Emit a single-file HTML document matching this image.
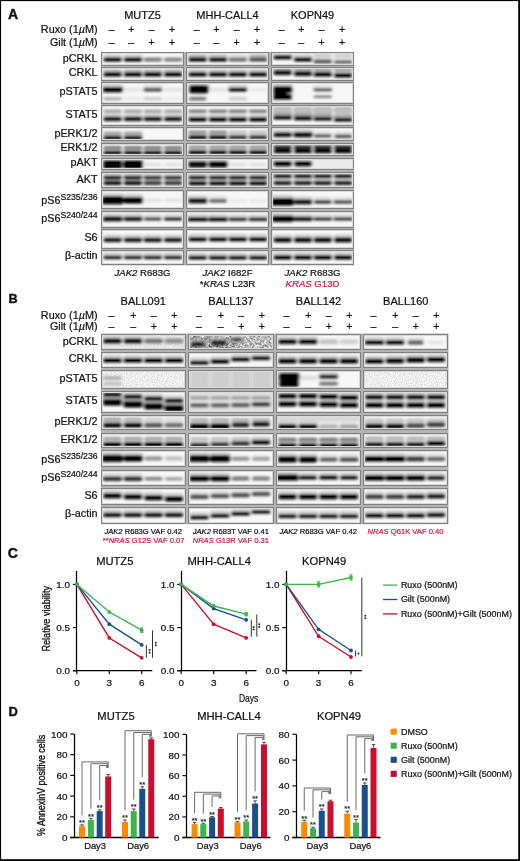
<!DOCTYPE html><html><head><meta charset="utf-8"><style>html,body{margin:0;padding:0;background:#fff;}svg text{font-family:"Liberation Sans", sans-serif;}</style></head><body><svg width="520" height="861" viewBox="0 0 520 861" style="display:block;will-change:transform">
<defs>
<filter id="bl" x="-20%" y="-50%" width="140%" height="200%"><feGaussianBlur stdDeviation="1.5 1.0"/></filter>
<filter id="nz1" x="0" y="0" width="100%" height="100%" color-interpolation-filters="sRGB"><feTurbulence type="fractalNoise" baseFrequency="0.9" numOctaves="2" seed="3"/><feColorMatrix type="matrix" values="0.26 0 0 0 0.8  0.26 0 0 0 0.8  0.26 0 0 0 0.8  0 0 0 0 1"/></filter>
<filter id="nz2" x="0" y="0" width="100%" height="100%" color-interpolation-filters="sRGB"><feTurbulence type="fractalNoise" baseFrequency="0.42" numOctaves="2" seed="7"/><feColorMatrix type="matrix" values="1.35 0 0 0 -0.05  1.35 0 0 0 -0.05  1.35 0 0 0 -0.05  0 0 0 0 1"/></filter>
<filter id="nz3" x="0" y="0" width="100%" height="100%" color-interpolation-filters="sRGB"><feTurbulence type="fractalNoise" baseFrequency="0.9" numOctaves="2" seed="11"/><feColorMatrix type="matrix" values="0.22 0 0 0 0.79  0.22 0 0 0 0.79  0.22 0 0 0 0.79  0 0 0 0 1"/></filter>
</defs>
<rect x="0" y="0" width="520" height="861" fill="#ffffff"/>
<g font-family=""Liberation Sans", sans-serif">
<text x="7.9" y="19.1" font-size="14" text-anchor="start" font-weight="bold" font-style="normal" fill="#111" stroke="#111" stroke-width="0.4">A</text>
<text x="142.5" y="19.2" font-size="11" text-anchor="middle" font-weight="normal" font-style="normal" fill="#111"  stroke="#111" stroke-width="0.22">MUTZ5</text>
<text x="227.5" y="19.2" font-size="11" text-anchor="middle" font-weight="normal" font-style="normal" fill="#111"  stroke="#111" stroke-width="0.22">MHH-CALL4</text>
<text x="312.5" y="19.2" font-size="11" text-anchor="middle" font-weight="normal" font-style="normal" fill="#111"  stroke="#111" stroke-width="0.22">KOPN49</text>
<text x="97.5" y="32.6" font-size="10.8" text-anchor="end" font-weight="normal" font-style="normal" fill="#111"  stroke="#111" stroke-width="0.22">Ruxo (1<tspan font-style="italic">µ</tspan>M)</text>
<text x="97.5" y="46" font-size="10.8" text-anchor="end" font-weight="normal" font-style="normal" fill="#111"  stroke="#111" stroke-width="0.22">Gilt (1<tspan font-style="italic">µ</tspan>M)</text>
<text x="111.8" y="32.7" font-size="10.6" text-anchor="middle" font-weight="normal" font-style="normal" fill="#111"  stroke="#111" stroke-width="0.22">–</text>
<text x="111.8" y="46.2" font-size="10.6" text-anchor="middle" font-weight="normal" font-style="normal" fill="#111"  stroke="#111" stroke-width="0.22">–</text>
<text x="131.3" y="32.7" font-size="10.6" text-anchor="middle" font-weight="normal" font-style="normal" fill="#111"  stroke="#111" stroke-width="0.22">+</text>
<text x="131.3" y="46.2" font-size="10.6" text-anchor="middle" font-weight="normal" font-style="normal" fill="#111"  stroke="#111" stroke-width="0.22">–</text>
<text x="151.6" y="32.7" font-size="10.6" text-anchor="middle" font-weight="normal" font-style="normal" fill="#111"  stroke="#111" stroke-width="0.22">–</text>
<text x="151.6" y="46.2" font-size="10.6" text-anchor="middle" font-weight="normal" font-style="normal" fill="#111"  stroke="#111" stroke-width="0.22">+</text>
<text x="172.2" y="32.7" font-size="10.6" text-anchor="middle" font-weight="normal" font-style="normal" fill="#111"  stroke="#111" stroke-width="0.22">+</text>
<text x="172.2" y="46.2" font-size="10.6" text-anchor="middle" font-weight="normal" font-style="normal" fill="#111"  stroke="#111" stroke-width="0.22">+</text>
<text x="196.8" y="32.7" font-size="10.6" text-anchor="middle" font-weight="normal" font-style="normal" fill="#111"  stroke="#111" stroke-width="0.22">–</text>
<text x="196.8" y="46.2" font-size="10.6" text-anchor="middle" font-weight="normal" font-style="normal" fill="#111"  stroke="#111" stroke-width="0.22">–</text>
<text x="216.3" y="32.7" font-size="10.6" text-anchor="middle" font-weight="normal" font-style="normal" fill="#111"  stroke="#111" stroke-width="0.22">+</text>
<text x="216.3" y="46.2" font-size="10.6" text-anchor="middle" font-weight="normal" font-style="normal" fill="#111"  stroke="#111" stroke-width="0.22">–</text>
<text x="236.6" y="32.7" font-size="10.6" text-anchor="middle" font-weight="normal" font-style="normal" fill="#111"  stroke="#111" stroke-width="0.22">–</text>
<text x="236.6" y="46.2" font-size="10.6" text-anchor="middle" font-weight="normal" font-style="normal" fill="#111"  stroke="#111" stroke-width="0.22">+</text>
<text x="257.2" y="32.7" font-size="10.6" text-anchor="middle" font-weight="normal" font-style="normal" fill="#111"  stroke="#111" stroke-width="0.22">+</text>
<text x="257.2" y="46.2" font-size="10.6" text-anchor="middle" font-weight="normal" font-style="normal" fill="#111"  stroke="#111" stroke-width="0.22">+</text>
<text x="281.8" y="32.7" font-size="10.6" text-anchor="middle" font-weight="normal" font-style="normal" fill="#111"  stroke="#111" stroke-width="0.22">–</text>
<text x="281.8" y="46.2" font-size="10.6" text-anchor="middle" font-weight="normal" font-style="normal" fill="#111"  stroke="#111" stroke-width="0.22">–</text>
<text x="301.3" y="32.7" font-size="10.6" text-anchor="middle" font-weight="normal" font-style="normal" fill="#111"  stroke="#111" stroke-width="0.22">+</text>
<text x="301.3" y="46.2" font-size="10.6" text-anchor="middle" font-weight="normal" font-style="normal" fill="#111"  stroke="#111" stroke-width="0.22">–</text>
<text x="321.6" y="32.7" font-size="10.6" text-anchor="middle" font-weight="normal" font-style="normal" fill="#111"  stroke="#111" stroke-width="0.22">–</text>
<text x="321.6" y="46.2" font-size="10.6" text-anchor="middle" font-weight="normal" font-style="normal" fill="#111"  stroke="#111" stroke-width="0.22">+</text>
<text x="342.2" y="32.7" font-size="10.6" text-anchor="middle" font-weight="normal" font-style="normal" fill="#111"  stroke="#111" stroke-width="0.22">+</text>
<text x="342.2" y="46.2" font-size="10.6" text-anchor="middle" font-weight="normal" font-style="normal" fill="#111"  stroke="#111" stroke-width="0.22">+</text>
<text x="97.6" y="61.70" font-size="10.8" text-anchor="end" font-weight="normal" font-style="normal" fill="#111"  stroke="#111" stroke-width="0.22">pCRKL</text>
<text x="97.6" y="75.80" font-size="10.8" text-anchor="end" font-weight="normal" font-style="normal" fill="#111"  stroke="#111" stroke-width="0.22">CRKL</text>
<text x="97.6" y="95.35" font-size="10.8" text-anchor="end" font-weight="normal" font-style="normal" fill="#111"  stroke="#111" stroke-width="0.22">pSTAT5</text>
<text x="97.6" y="117.65" font-size="10.8" text-anchor="end" font-weight="normal" font-style="normal" fill="#111"  stroke="#111" stroke-width="0.22">STAT5</text>
<text x="97.6" y="136.70" font-size="10.8" text-anchor="end" font-weight="normal" font-style="normal" fill="#111"  stroke="#111" stroke-width="0.22">pERK1/2</text>
<text x="97.6" y="151.40" font-size="10.8" text-anchor="end" font-weight="normal" font-style="normal" fill="#111"  stroke="#111" stroke-width="0.22">ERK1/2</text>
<text x="97.6" y="166.30" font-size="10.8" text-anchor="end" font-weight="normal" font-style="normal" fill="#111"  stroke="#111" stroke-width="0.22">pAKT</text>
<text x="97.6" y="182.65" font-size="10.8" text-anchor="end" font-weight="normal" font-style="normal" fill="#111"  stroke="#111" stroke-width="0.22">AKT</text>
<text x="97.6" y="204.25" font-size="10.8" text-anchor="end" fill="#111" stroke="#111" stroke-width="0.22">pS6<tspan font-size="8.7" dy="-3.9">S235/236</tspan></text>
<text x="97.6" y="222.25" font-size="10.8" text-anchor="end" fill="#111" stroke="#111" stroke-width="0.22">pS6<tspan font-size="8.7" dy="-3.9">S240/244</tspan></text>
<text x="97.6" y="240.90" font-size="10.8" text-anchor="end" font-weight="normal" font-style="normal" fill="#111"  stroke="#111" stroke-width="0.22">S6</text>
<text x="97.6" y="259.10" font-size="10.8" text-anchor="end" font-weight="normal" font-style="normal" fill="#111"  stroke="#111" stroke-width="0.22">β-actin</text>
<rect x="101" y="52" width="253" height="213.4" fill="#b4b4b4"/>
<clipPath id="c1010_520"><rect x="101" y="52" width="83" height="14"/></clipPath>
<rect x="101" y="52" width="83" height="14" fill="#f7f7f7"/>
<g clip-path="url(#c1010_520)">
<g filter="url(#bl)" opacity="1.0">
<rect x="102.75" y="54.25" width="19.70" height="8.10" rx="3.04" fill="#cfcfcf"/>
<rect x="123.15" y="54.25" width="19.70" height="8.10" rx="3.04" fill="#cfcfcf"/>
<rect x="164.10" y="57.55" width="18.20" height="4.10" rx="1.54" fill="#8a8a8a"/>
<rect x="143.70" y="57.55" width="18.20" height="4.10" rx="1.54" fill="#828282"/>
<rect x="103.50" y="57.55" width="18.20" height="4.10" rx="1.54" fill="#060606"/>
<rect x="123.90" y="57.55" width="18.20" height="4.10" rx="1.54" fill="#060606"/>
</g></g>
<rect x="101.5" y="52.5" width="82" height="13" fill="none" stroke="#808080" stroke-width="1"/>
<rect x="102.5" y="53.5" width="80" height="11" fill="none" stroke="#dadada" stroke-width="1"/>
<clipPath id="c1010_670"><rect x="101" y="67" width="83" height="14"/></clipPath>
<rect x="101" y="67" width="83" height="14" fill="#f7f7f7"/>
<g clip-path="url(#c1010_670)">
<g filter="url(#bl)" opacity="1.0">
<rect x="102.75" y="69.05" width="19.70" height="8.50" rx="3.19" fill="#cfcfcf"/>
<rect x="123.15" y="69.05" width="19.70" height="8.50" rx="3.19" fill="#cfcfcf"/>
<rect x="142.95" y="69.05" width="19.70" height="8.50" rx="3.19" fill="#cfcfcf"/>
<rect x="163.35" y="69.05" width="19.70" height="8.50" rx="3.19" fill="#cfcfcf"/>
<rect x="103.50" y="69.80" width="18.20" height="3.40" rx="1.27" fill="#b6b6b6"/>
<rect x="123.90" y="69.80" width="18.20" height="3.40" rx="1.27" fill="#b6b6b6"/>
<rect x="143.70" y="69.80" width="18.20" height="3.40" rx="1.27" fill="#b6b6b6"/>
<rect x="164.10" y="69.80" width="18.20" height="3.40" rx="1.27" fill="#b6b6b6"/>
<rect x="103.50" y="72.35" width="18.20" height="4.50" rx="1.69" fill="#060606"/>
<rect x="123.90" y="72.35" width="18.20" height="4.50" rx="1.69" fill="#060606"/>
<rect x="143.70" y="72.35" width="18.20" height="4.50" rx="1.69" fill="#060606"/>
<rect x="164.10" y="72.35" width="18.20" height="4.50" rx="1.69" fill="#060606"/>
</g></g>
<rect x="101.5" y="67.5" width="82" height="13" fill="none" stroke="#808080" stroke-width="1"/>
<rect x="102.5" y="68.5" width="80" height="11" fill="none" stroke="#dadada" stroke-width="1"/>
<clipPath id="c1010_820"><rect x="101" y="82" width="83" height="22"/></clipPath>
<rect x="101" y="82" width="83" height="22" fill="#f7f7f7"/>
<g clip-path="url(#c1010_820)">
<g filter="url(#bl)" opacity="1.0">
<rect x="164.10" y="97.10" width="18.20" height="3.40" rx="1.27" fill="#ececec"/>
<rect x="123.90" y="97.10" width="18.20" height="3.40" rx="1.27" fill="#eaeaea"/>
<rect x="123.90" y="87.75" width="18.20" height="3.90" rx="1.46" fill="#e4e4e4"/>
<rect x="164.10" y="87.75" width="18.20" height="3.90" rx="1.46" fill="#e4e4e4"/>
<rect x="142.95" y="84.45" width="19.70" height="7.90" rx="2.96" fill="#e0e0e0"/>
<rect x="143.70" y="97.10" width="18.20" height="3.40" rx="1.27" fill="#d1d1d1"/>
<rect x="101.75" y="83.65" width="21.70" height="9.50" rx="3.56" fill="#cecece"/>
<rect x="103.50" y="97.10" width="18.20" height="3.40" rx="1.27" fill="#b6b6b6"/>
<rect x="143.70" y="87.75" width="18.20" height="3.90" rx="1.46" fill="#5c5c5c"/>
<rect x="102.50" y="86.95" width="20.20" height="5.50" rx="2.06" fill="#040404"/>
</g></g>
<rect x="101.5" y="82.5" width="82" height="21" fill="none" stroke="#808080" stroke-width="1"/>
<rect x="102.5" y="83.5" width="80" height="19" fill="none" stroke="#dadada" stroke-width="1"/>
<clipPath id="c1010_1050"><rect x="101" y="105" width="83" height="21"/></clipPath>
<rect x="101" y="105" width="83" height="21" fill="#f7f7f7"/>
<g clip-path="url(#c1010_1050)">
<g filter="url(#bl)" opacity="1.0">
<rect x="102.75" y="113.55" width="19.70" height="8.50" rx="3.19" fill="#cfcfcf"/>
<rect x="123.15" y="113.55" width="19.70" height="8.50" rx="3.19" fill="#cfcfcf"/>
<rect x="142.95" y="113.55" width="19.70" height="8.50" rx="3.19" fill="#cfcfcf"/>
<rect x="163.35" y="113.55" width="19.70" height="8.50" rx="3.19" fill="#cfcfcf"/>
<rect x="103.50" y="109.50" width="18.20" height="3.40" rx="1.27" fill="#a9a9a9"/>
<rect x="123.90" y="109.50" width="18.20" height="3.40" rx="1.27" fill="#a9a9a9"/>
<rect x="143.70" y="109.50" width="18.20" height="3.40" rx="1.27" fill="#a9a9a9"/>
<rect x="164.10" y="109.50" width="18.20" height="3.40" rx="1.27" fill="#a9a9a9"/>
<rect x="103.50" y="116.85" width="18.20" height="4.50" rx="1.69" fill="#060606"/>
<rect x="123.90" y="116.85" width="18.20" height="4.50" rx="1.69" fill="#060606"/>
<rect x="143.70" y="116.85" width="18.20" height="4.50" rx="1.69" fill="#060606"/>
<rect x="164.10" y="116.85" width="18.20" height="4.50" rx="1.69" fill="#060606"/>
</g></g>
<rect x="101.5" y="105.5" width="82" height="20" fill="none" stroke="#808080" stroke-width="1"/>
<rect x="102.5" y="106.5" width="80" height="18" fill="none" stroke="#dadada" stroke-width="1"/>
<clipPath id="c1010_1270"><rect x="101" y="127" width="83" height="14"/></clipPath>
<rect x="101" y="127" width="83" height="14" fill="#f7f7f7"/>
<g clip-path="url(#c1010_1270)">
<g filter="url(#bl)" opacity="1.0">
<rect x="102.75" y="132.55" width="19.70" height="8.10" rx="3.04" fill="#cfcfcf"/>
<rect x="123.15" y="132.55" width="19.70" height="8.10" rx="3.04" fill="#cfcfcf"/>
<rect x="103.50" y="131.60" width="18.20" height="3.40" rx="1.27" fill="#a9a9a9"/>
<rect x="123.90" y="131.60" width="18.20" height="3.40" rx="1.27" fill="#a9a9a9"/>
<rect x="103.50" y="135.85" width="18.20" height="4.10" rx="1.54" fill="#060606"/>
<rect x="123.90" y="135.85" width="18.20" height="4.10" rx="1.54" fill="#060606"/>
</g></g>
<rect x="101.5" y="127.5" width="82" height="13" fill="none" stroke="#808080" stroke-width="1"/>
<rect x="102.5" y="128.5" width="80" height="11" fill="none" stroke="#dadada" stroke-width="1"/>
<clipPath id="c1010_1430"><rect x="101" y="143" width="83" height="13"/></clipPath>
<rect x="101" y="143" width="83" height="13" fill="#f7f7f7"/>
<g clip-path="url(#c1010_1430)">
<g filter="url(#bl)" opacity="1.0">
<rect x="102.75" y="147.35" width="19.70" height="8.30" rx="3.11" fill="#cfcfcf"/>
<rect x="123.15" y="147.35" width="19.70" height="8.30" rx="3.11" fill="#cfcfcf"/>
<rect x="142.95" y="147.35" width="19.70" height="8.30" rx="3.11" fill="#cfcfcf"/>
<rect x="163.35" y="147.35" width="19.70" height="8.30" rx="3.11" fill="#cfcfcf"/>
<rect x="103.50" y="146.10" width="18.20" height="3.40" rx="1.27" fill="#828282"/>
<rect x="123.90" y="146.10" width="18.20" height="3.40" rx="1.27" fill="#828282"/>
<rect x="143.70" y="146.10" width="18.20" height="3.40" rx="1.27" fill="#828282"/>
<rect x="164.10" y="146.10" width="18.20" height="3.40" rx="1.27" fill="#828282"/>
<rect x="103.50" y="150.65" width="18.20" height="4.30" rx="1.61" fill="#060606"/>
<rect x="123.90" y="150.65" width="18.20" height="4.30" rx="1.61" fill="#060606"/>
<rect x="143.70" y="150.65" width="18.20" height="4.30" rx="1.61" fill="#060606"/>
<rect x="164.10" y="150.65" width="18.20" height="4.30" rx="1.61" fill="#060606"/>
</g></g>
<rect x="101.5" y="143.5" width="82" height="12" fill="none" stroke="#808080" stroke-width="1"/>
<rect x="102.5" y="144.5" width="80" height="10" fill="none" stroke="#dadada" stroke-width="1"/>
<clipPath id="c1010_1580"><rect x="101" y="158" width="83" height="12"/></clipPath>
<rect x="101" y="158" width="83" height="12" fill="#f7f7f7"/>
<g clip-path="url(#c1010_1580)">
<g filter="url(#bl)" opacity="1.0">
<rect x="143.70" y="162.55" width="18.20" height="3.90" rx="1.46" fill="#e4e4e4"/>
<rect x="164.10" y="162.55" width="18.20" height="3.90" rx="1.46" fill="#e4e4e4"/>
<rect x="102.00" y="156.75" width="21.20" height="12.90" rx="4.84" fill="#cecece"/>
<rect x="122.40" y="156.75" width="21.20" height="12.90" rx="4.84" fill="#cecece"/>
<rect x="102.75" y="160.05" width="19.70" height="8.90" rx="3.34" fill="#040404"/>
<rect x="123.15" y="160.05" width="19.70" height="8.90" rx="3.34" fill="#040404"/>
</g></g>
<rect x="101.5" y="158.5" width="82" height="11" fill="none" stroke="#808080" stroke-width="1"/>
<rect x="102.5" y="159.5" width="80" height="9" fill="none" stroke="#dadada" stroke-width="1"/>
<clipPath id="c1010_1720"><rect x="101" y="172" width="83" height="16"/></clipPath>
<rect x="101" y="172" width="83" height="16" fill="#f7f7f7"/>
<g clip-path="url(#c1010_1720)">
<g filter="url(#bl)" opacity="1.0">
<rect x="142.95" y="177.55" width="19.70" height="8.30" rx="3.11" fill="#dadada"/>
<rect x="163.35" y="177.55" width="19.70" height="8.30" rx="3.11" fill="#dadada"/>
<rect x="142.95" y="172.35" width="19.70" height="7.90" rx="2.96" fill="#d7d7d7"/>
<rect x="163.35" y="172.35" width="19.70" height="7.90" rx="2.96" fill="#d7d7d7"/>
<rect x="102.75" y="172.35" width="19.70" height="7.90" rx="2.96" fill="#cfcfcf"/>
<rect x="123.15" y="172.35" width="19.70" height="7.90" rx="2.96" fill="#cfcfcf"/>
<rect x="102.75" y="177.55" width="19.70" height="8.30" rx="3.11" fill="#cfcfcf"/>
<rect x="123.15" y="177.55" width="19.70" height="8.30" rx="3.11" fill="#cfcfcf"/>
<rect x="143.70" y="180.85" width="18.20" height="4.30" rx="1.61" fill="#3f3f3f"/>
<rect x="164.10" y="180.85" width="18.20" height="4.30" rx="1.61" fill="#3f3f3f"/>
<rect x="143.70" y="175.65" width="18.20" height="3.90" rx="1.46" fill="#2c2c2c"/>
<rect x="164.10" y="175.65" width="18.20" height="3.90" rx="1.46" fill="#2c2c2c"/>
<rect x="103.50" y="175.65" width="18.20" height="3.90" rx="1.46" fill="#060606"/>
<rect x="123.90" y="175.65" width="18.20" height="3.90" rx="1.46" fill="#060606"/>
<rect x="103.50" y="180.85" width="18.20" height="4.30" rx="1.61" fill="#060606"/>
<rect x="123.90" y="180.85" width="18.20" height="4.30" rx="1.61" fill="#060606"/>
</g></g>
<rect x="101.5" y="172.5" width="82" height="15" fill="none" stroke="#808080" stroke-width="1"/>
<rect x="102.5" y="173.5" width="80" height="13" fill="none" stroke="#dadada" stroke-width="1"/>
<clipPath id="c1010_1900"><rect x="101" y="190" width="83" height="19"/></clipPath>
<rect x="101" y="190" width="83" height="19" fill="#f7f7f7"/>
<g clip-path="url(#c1010_1900)">
<g filter="url(#bl)" opacity="1.0">
<rect x="143.70" y="198.45" width="18.20" height="3.90" rx="1.46" fill="#e4e4e4"/>
<rect x="164.10" y="198.45" width="18.20" height="3.90" rx="1.46" fill="#e4e4e4"/>
<rect x="100.75" y="192.95" width="23.70" height="12.30" rx="4.61" fill="#cecece"/>
<rect x="122.40" y="193.85" width="21.20" height="10.50" rx="3.94" fill="#cecece"/>
<rect x="101.50" y="196.25" width="22.20" height="8.30" rx="3.11" fill="#040404"/>
<rect x="123.15" y="197.15" width="19.70" height="6.50" rx="2.44" fill="#040404"/>
</g></g>
<rect x="101.5" y="190.5" width="82" height="18" fill="none" stroke="#808080" stroke-width="1"/>
<rect x="102.5" y="191.5" width="80" height="16" fill="none" stroke="#dadada" stroke-width="1"/>
<clipPath id="c1010_2110"><rect x="101" y="211" width="83" height="17"/></clipPath>
<rect x="101" y="211" width="83" height="17" fill="#f7f7f7"/>
<g clip-path="url(#c1010_2110)">
<g filter="url(#bl)" opacity="1.0">
<rect x="143.45" y="213.95" width="18.70" height="7.50" rx="2.81" fill="#dddddd"/>
<rect x="163.35" y="213.75" width="19.70" height="7.90" rx="2.96" fill="#d9d9d9"/>
<rect x="122.90" y="213.35" width="20.20" height="8.70" rx="3.26" fill="#d1d1d1"/>
<rect x="102.00" y="213.15" width="21.20" height="9.10" rx="3.41" fill="#d0d0d0"/>
<rect x="144.20" y="217.25" width="17.20" height="3.50" rx="1.31" fill="#505050"/>
<rect x="164.10" y="217.05" width="18.20" height="3.90" rx="1.46" fill="#383838"/>
<rect x="123.65" y="216.65" width="18.70" height="4.70" rx="1.76" fill="#101010"/>
<rect x="102.75" y="216.45" width="19.70" height="5.10" rx="1.91" fill="#0d0d0d"/>
</g></g>
<rect x="101.5" y="211.5" width="82" height="16" fill="none" stroke="#808080" stroke-width="1"/>
<rect x="102.5" y="212.5" width="80" height="14" fill="none" stroke="#dadada" stroke-width="1"/>
<clipPath id="c1010_2290"><rect x="101" y="229" width="83" height="20"/></clipPath>
<rect x="101" y="229" width="83" height="20" fill="#f7f7f7"/>
<g clip-path="url(#c1010_2290)">
<g filter="url(#bl)" opacity="1.0">
<rect x="102.75" y="234.45" width="19.70" height="8.50" rx="3.19" fill="#cfcfcf"/>
<rect x="123.15" y="234.45" width="19.70" height="8.50" rx="3.19" fill="#cfcfcf"/>
<rect x="142.95" y="234.45" width="19.70" height="8.50" rx="3.19" fill="#cfcfcf"/>
<rect x="163.35" y="234.45" width="19.70" height="8.50" rx="3.19" fill="#cfcfcf"/>
<rect x="103.50" y="237.75" width="18.20" height="4.50" rx="1.69" fill="#060606"/>
<rect x="123.90" y="237.75" width="18.20" height="4.50" rx="1.69" fill="#060606"/>
<rect x="143.70" y="237.75" width="18.20" height="4.50" rx="1.69" fill="#060606"/>
<rect x="164.10" y="237.75" width="18.20" height="4.50" rx="1.69" fill="#060606"/>
</g></g>
<rect x="101.5" y="229.5" width="82" height="19" fill="none" stroke="#808080" stroke-width="1"/>
<rect x="102.5" y="230.5" width="80" height="17" fill="none" stroke="#dadada" stroke-width="1"/>
<clipPath id="c1010_2500"><rect x="101" y="250" width="83" height="15"/></clipPath>
<rect x="101" y="250" width="83" height="15" fill="#f7f7f7"/>
<g clip-path="url(#c1010_2500)">
<g filter="url(#bl)" opacity="1.0">
<rect x="102.75" y="252.35" width="19.70" height="7.50" rx="2.81" fill="#cfcfcf"/>
<rect x="123.15" y="252.35" width="19.70" height="7.50" rx="2.81" fill="#cfcfcf"/>
<rect x="142.95" y="252.35" width="19.70" height="7.50" rx="2.81" fill="#cfcfcf"/>
<rect x="163.35" y="252.35" width="19.70" height="7.50" rx="2.81" fill="#cfcfcf"/>
<rect x="103.50" y="255.65" width="18.20" height="3.50" rx="1.31" fill="#060606"/>
<rect x="123.90" y="255.65" width="18.20" height="3.50" rx="1.31" fill="#060606"/>
<rect x="143.70" y="255.65" width="18.20" height="3.50" rx="1.31" fill="#060606"/>
<rect x="164.10" y="255.65" width="18.20" height="3.50" rx="1.31" fill="#060606"/>
</g></g>
<rect x="101.5" y="250.5" width="82" height="14" fill="none" stroke="#808080" stroke-width="1"/>
<rect x="102.5" y="251.5" width="80" height="12" fill="none" stroke="#dadada" stroke-width="1"/>
<clipPath id="c1860_520"><rect x="186" y="52" width="83" height="14"/></clipPath>
<rect x="186" y="52" width="83" height="14" fill="#f7f7f7"/>
<g clip-path="url(#c1860_520)">
<g filter="url(#bl)" opacity="1.0">
<rect x="227.95" y="54.25" width="19.70" height="8.10" rx="3.04" fill="#e4e4e4"/>
<rect x="248.35" y="54.25" width="19.70" height="8.10" rx="3.04" fill="#dfdfdf"/>
<rect x="228.70" y="54.30" width="18.20" height="3.40" rx="1.27" fill="#dfdfdf"/>
<rect x="187.75" y="54.25" width="19.70" height="8.10" rx="3.04" fill="#cfcfcf"/>
<rect x="208.15" y="54.25" width="19.70" height="8.10" rx="3.04" fill="#cfcfcf"/>
<rect x="208.90" y="54.30" width="18.20" height="3.40" rx="1.27" fill="#c4c4c4"/>
<rect x="188.50" y="54.30" width="18.20" height="3.40" rx="1.27" fill="#b6b6b6"/>
<rect x="249.10" y="54.30" width="18.20" height="3.40" rx="1.27" fill="#b6b6b6"/>
<rect x="228.70" y="57.55" width="18.20" height="4.10" rx="1.54" fill="#757575"/>
<rect x="249.10" y="57.55" width="18.20" height="4.10" rx="1.54" fill="#575757"/>
<rect x="188.50" y="57.55" width="18.20" height="4.10" rx="1.54" fill="#060606"/>
<rect x="208.90" y="57.55" width="18.20" height="4.10" rx="1.54" fill="#060606"/>
</g></g>
<rect x="186.5" y="52.5" width="82" height="13" fill="none" stroke="#808080" stroke-width="1"/>
<rect x="187.5" y="53.5" width="80" height="11" fill="none" stroke="#dadada" stroke-width="1"/>
<clipPath id="c1860_670"><rect x="186" y="67" width="83" height="14"/></clipPath>
<rect x="186" y="67" width="83" height="14" fill="#f7f7f7"/>
<g clip-path="url(#c1860_670)">
<g filter="url(#bl)" opacity="1.0">
<rect x="187.75" y="69.05" width="19.70" height="8.50" rx="3.19" fill="#cfcfcf"/>
<rect x="208.15" y="69.05" width="19.70" height="8.50" rx="3.19" fill="#cfcfcf"/>
<rect x="227.95" y="69.05" width="19.70" height="8.50" rx="3.19" fill="#cfcfcf"/>
<rect x="248.35" y="69.05" width="19.70" height="8.50" rx="3.19" fill="#cfcfcf"/>
<rect x="188.50" y="69.80" width="18.20" height="3.40" rx="1.27" fill="#c4c4c4"/>
<rect x="208.90" y="69.80" width="18.20" height="3.40" rx="1.27" fill="#c4c4c4"/>
<rect x="228.70" y="69.80" width="18.20" height="3.40" rx="1.27" fill="#c4c4c4"/>
<rect x="249.10" y="69.80" width="18.20" height="3.40" rx="1.27" fill="#c4c4c4"/>
<rect x="188.50" y="72.35" width="18.20" height="4.50" rx="1.69" fill="#060606"/>
<rect x="208.90" y="72.35" width="18.20" height="4.50" rx="1.69" fill="#060606"/>
<rect x="228.70" y="72.35" width="18.20" height="4.50" rx="1.69" fill="#060606"/>
<rect x="249.10" y="72.35" width="18.20" height="4.50" rx="1.69" fill="#060606"/>
</g></g>
<rect x="186.5" y="67.5" width="82" height="13" fill="none" stroke="#808080" stroke-width="1"/>
<rect x="187.5" y="68.5" width="80" height="11" fill="none" stroke="#dadada" stroke-width="1"/>
<clipPath id="c1860_820"><rect x="186" y="82" width="83" height="22"/></clipPath>
<rect x="186" y="82" width="83" height="22" fill="#f7f7f7"/>
<g clip-path="url(#c1860_820)">
<g filter="url(#bl)" opacity="1.0">
<rect x="249.10" y="87.85" width="18.20" height="3.90" rx="1.46" fill="#eaeaea"/>
<rect x="208.90" y="87.85" width="18.20" height="3.90" rx="1.46" fill="#e4e4e4"/>
<rect x="228.70" y="96.85" width="18.20" height="3.90" rx="1.46" fill="#d1d1d1"/>
<rect x="227.95" y="84.55" width="19.70" height="7.90" rx="2.96" fill="#cfcfcf"/>
<rect x="188.20" y="82.05" width="21.20" height="12.10" rx="4.54" fill="#cecece"/>
<rect x="189.00" y="96.85" width="17.20" height="3.90" rx="1.46" fill="#828282"/>
<rect x="228.70" y="87.85" width="18.20" height="3.90" rx="1.46" fill="#060606"/>
<rect x="188.95" y="85.35" width="19.70" height="8.10" rx="3.04" fill="#040404"/>
</g></g>
<rect x="186.5" y="82.5" width="82" height="21" fill="none" stroke="#808080" stroke-width="1"/>
<rect x="187.5" y="83.5" width="80" height="19" fill="none" stroke="#dadada" stroke-width="1"/>
<clipPath id="c1860_1050"><rect x="186" y="105" width="83" height="21"/></clipPath>
<rect x="186" y="105" width="83" height="21" fill="#f7f7f7"/>
<g clip-path="url(#c1860_1050)">
<g filter="url(#bl)" opacity="1.0">
<rect x="187.75" y="113.85" width="19.70" height="8.50" rx="3.19" fill="#cfcfcf"/>
<rect x="208.15" y="113.85" width="19.70" height="8.50" rx="3.19" fill="#cfcfcf"/>
<rect x="227.95" y="113.85" width="19.70" height="8.50" rx="3.19" fill="#cfcfcf"/>
<rect x="248.35" y="113.85" width="19.70" height="8.50" rx="3.19" fill="#cfcfcf"/>
<rect x="188.50" y="109.50" width="18.20" height="3.40" rx="1.27" fill="#828282"/>
<rect x="208.90" y="109.50" width="18.20" height="3.40" rx="1.27" fill="#828282"/>
<rect x="228.70" y="109.50" width="18.20" height="3.40" rx="1.27" fill="#828282"/>
<rect x="249.10" y="109.50" width="18.20" height="3.40" rx="1.27" fill="#828282"/>
<rect x="188.50" y="117.15" width="18.20" height="4.50" rx="1.69" fill="#060606"/>
<rect x="208.90" y="117.15" width="18.20" height="4.50" rx="1.69" fill="#060606"/>
<rect x="228.70" y="117.15" width="18.20" height="4.50" rx="1.69" fill="#060606"/>
<rect x="249.10" y="117.15" width="18.20" height="4.50" rx="1.69" fill="#060606"/>
</g></g>
<rect x="186.5" y="105.5" width="82" height="20" fill="none" stroke="#808080" stroke-width="1"/>
<rect x="187.5" y="106.5" width="80" height="18" fill="none" stroke="#dadada" stroke-width="1"/>
<clipPath id="c1860_1270"><rect x="186" y="127" width="83" height="14"/></clipPath>
<rect x="186" y="127" width="83" height="14" fill="#f7f7f7"/>
<g clip-path="url(#c1860_1270)">
<g filter="url(#bl)" opacity="1.0">
<rect x="227.95" y="132.05" width="19.70" height="8.10" rx="3.04" fill="#d9d9d9"/>
<rect x="248.35" y="132.05" width="19.70" height="8.10" rx="3.04" fill="#d9d9d9"/>
<rect x="187.75" y="132.05" width="19.70" height="8.10" rx="3.04" fill="#cfcfcf"/>
<rect x="208.15" y="132.05" width="19.70" height="8.10" rx="3.04" fill="#cfcfcf"/>
<rect x="228.70" y="130.55" width="18.20" height="3.70" rx="1.39" fill="#c4c4c4"/>
<rect x="249.10" y="130.55" width="18.20" height="3.70" rx="1.39" fill="#c4c4c4"/>
<rect x="188.50" y="130.55" width="18.20" height="3.70" rx="1.39" fill="#949494"/>
<rect x="208.90" y="130.55" width="18.20" height="3.70" rx="1.39" fill="#949494"/>
<rect x="228.70" y="135.35" width="18.20" height="4.10" rx="1.54" fill="#383838"/>
<rect x="249.10" y="135.35" width="18.20" height="4.10" rx="1.54" fill="#383838"/>
<rect x="188.50" y="135.35" width="18.20" height="4.10" rx="1.54" fill="#060606"/>
<rect x="208.90" y="135.35" width="18.20" height="4.10" rx="1.54" fill="#060606"/>
</g></g>
<rect x="186.5" y="127.5" width="82" height="13" fill="none" stroke="#808080" stroke-width="1"/>
<rect x="187.5" y="128.5" width="80" height="11" fill="none" stroke="#dadada" stroke-width="1"/>
<clipPath id="c1860_1430"><rect x="186" y="143" width="83" height="13"/></clipPath>
<rect x="186" y="143" width="83" height="13" fill="#f7f7f7"/>
<g clip-path="url(#c1860_1430)">
<g filter="url(#bl)" opacity="1.0">
<rect x="187.75" y="146.85" width="19.70" height="8.30" rx="3.11" fill="#cfcfcf"/>
<rect x="208.15" y="146.85" width="19.70" height="8.30" rx="3.11" fill="#cfcfcf"/>
<rect x="227.95" y="146.85" width="19.70" height="8.30" rx="3.11" fill="#cfcfcf"/>
<rect x="248.35" y="146.85" width="19.70" height="8.30" rx="3.11" fill="#cfcfcf"/>
<rect x="188.50" y="145.60" width="18.20" height="3.40" rx="1.27" fill="#9c9c9c"/>
<rect x="208.90" y="145.60" width="18.20" height="3.40" rx="1.27" fill="#9c9c9c"/>
<rect x="228.70" y="145.60" width="18.20" height="3.40" rx="1.27" fill="#9c9c9c"/>
<rect x="249.10" y="145.60" width="18.20" height="3.40" rx="1.27" fill="#9c9c9c"/>
<rect x="188.50" y="150.15" width="18.20" height="4.30" rx="1.61" fill="#060606"/>
<rect x="208.90" y="150.15" width="18.20" height="4.30" rx="1.61" fill="#060606"/>
<rect x="228.70" y="150.15" width="18.20" height="4.30" rx="1.61" fill="#060606"/>
<rect x="249.10" y="150.15" width="18.20" height="4.30" rx="1.61" fill="#060606"/>
</g></g>
<rect x="186.5" y="143.5" width="82" height="12" fill="none" stroke="#808080" stroke-width="1"/>
<rect x="187.5" y="144.5" width="80" height="10" fill="none" stroke="#dadada" stroke-width="1"/>
<clipPath id="c1860_1580"><rect x="186" y="158" width="83" height="12"/></clipPath>
<rect x="186" y="158" width="83" height="12" fill="#f7f7f7"/>
<g clip-path="url(#c1860_1580)">
<g filter="url(#bl)" opacity="1.0">
<rect x="228.70" y="162.55" width="18.20" height="3.90" rx="1.46" fill="#e4e4e4"/>
<rect x="249.10" y="162.55" width="18.20" height="3.90" rx="1.46" fill="#e4e4e4"/>
<rect x="187.25" y="158.05" width="20.70" height="10.30" rx="3.86" fill="#d0d0d0"/>
<rect x="207.65" y="157.95" width="20.70" height="10.50" rx="3.94" fill="#cfcfcf"/>
<rect x="188.00" y="161.35" width="19.20" height="6.30" rx="2.36" fill="#090909"/>
<rect x="208.40" y="161.25" width="19.20" height="6.50" rx="2.44" fill="#050505"/>
</g></g>
<rect x="186.5" y="158.5" width="82" height="11" fill="none" stroke="#808080" stroke-width="1"/>
<rect x="187.5" y="159.5" width="80" height="9" fill="none" stroke="#dadada" stroke-width="1"/>
<clipPath id="c1860_1720"><rect x="186" y="172" width="83" height="16"/></clipPath>
<rect x="186" y="172" width="83" height="16" fill="#f7f7f7"/>
<g clip-path="url(#c1860_1720)">
<g filter="url(#bl)" opacity="1.0">
<rect x="187.75" y="172.35" width="19.70" height="7.90" rx="2.96" fill="#cfcfcf"/>
<rect x="208.15" y="172.35" width="19.70" height="7.90" rx="2.96" fill="#cfcfcf"/>
<rect x="227.95" y="172.35" width="19.70" height="7.90" rx="2.96" fill="#cfcfcf"/>
<rect x="248.35" y="172.35" width="19.70" height="7.90" rx="2.96" fill="#cfcfcf"/>
<rect x="187.75" y="177.65" width="19.70" height="8.50" rx="3.19" fill="#cfcfcf"/>
<rect x="208.15" y="177.65" width="19.70" height="8.50" rx="3.19" fill="#cfcfcf"/>
<rect x="227.95" y="177.65" width="19.70" height="8.50" rx="3.19" fill="#cfcfcf"/>
<rect x="248.35" y="177.65" width="19.70" height="8.50" rx="3.19" fill="#cfcfcf"/>
<rect x="188.50" y="175.65" width="18.20" height="3.90" rx="1.46" fill="#060606"/>
<rect x="208.90" y="175.65" width="18.20" height="3.90" rx="1.46" fill="#060606"/>
<rect x="228.70" y="175.65" width="18.20" height="3.90" rx="1.46" fill="#060606"/>
<rect x="249.10" y="175.65" width="18.20" height="3.90" rx="1.46" fill="#060606"/>
<rect x="188.50" y="180.95" width="18.20" height="4.50" rx="1.69" fill="#060606"/>
<rect x="208.90" y="180.95" width="18.20" height="4.50" rx="1.69" fill="#060606"/>
<rect x="228.70" y="180.95" width="18.20" height="4.50" rx="1.69" fill="#060606"/>
<rect x="249.10" y="180.95" width="18.20" height="4.50" rx="1.69" fill="#060606"/>
</g></g>
<rect x="186.5" y="172.5" width="82" height="15" fill="none" stroke="#808080" stroke-width="1"/>
<rect x="187.5" y="173.5" width="80" height="13" fill="none" stroke="#dadada" stroke-width="1"/>
<clipPath id="c1860_1900"><rect x="186" y="190" width="83" height="19"/></clipPath>
<rect x="186" y="190" width="83" height="19" fill="#f7f7f7"/>
<g clip-path="url(#c1860_1900)">
<g filter="url(#bl)" opacity="1.0">
<rect x="228.70" y="198.95" width="18.20" height="3.90" rx="1.46" fill="#eaeaea"/>
<rect x="249.10" y="198.95" width="18.20" height="3.90" rx="1.46" fill="#eaeaea"/>
<rect x="208.65" y="195.40" width="18.70" height="8.40" rx="3.15" fill="#e4e4e4"/>
<rect x="187.25" y="195.05" width="20.70" height="9.10" rx="3.41" fill="#d3d3d3"/>
<rect x="209.40" y="198.70" width="17.20" height="4.40" rx="1.65" fill="#757575"/>
<rect x="188.00" y="198.35" width="19.20" height="5.10" rx="1.91" fill="#171717"/>
</g></g>
<rect x="186.5" y="190.5" width="82" height="18" fill="none" stroke="#808080" stroke-width="1"/>
<rect x="187.5" y="191.5" width="80" height="16" fill="none" stroke="#dadada" stroke-width="1"/>
<clipPath id="c1860_2110"><rect x="186" y="211" width="83" height="17"/></clipPath>
<rect x="186" y="211" width="83" height="17" fill="#f7f7f7"/>
<g clip-path="url(#c1860_2110)">
<g filter="url(#bl)" opacity="1.0">
<rect x="227.95" y="214.25" width="19.70" height="7.70" rx="2.89" fill="#d8d8d8"/>
<rect x="247.85" y="214.15" width="20.70" height="7.90" rx="2.96" fill="#d6d6d6"/>
<rect x="186.75" y="214.05" width="21.70" height="8.10" rx="3.04" fill="#cfcfcf"/>
<rect x="207.65" y="214.05" width="20.70" height="8.10" rx="3.04" fill="#cfcfcf"/>
<rect x="228.70" y="217.55" width="18.20" height="3.70" rx="1.39" fill="#313131"/>
<rect x="248.60" y="217.45" width="19.20" height="3.90" rx="1.46" fill="#282828"/>
<rect x="187.50" y="217.35" width="20.20" height="4.10" rx="1.54" fill="#060606"/>
<rect x="208.40" y="217.35" width="19.20" height="4.10" rx="1.54" fill="#060606"/>
</g></g>
<rect x="186.5" y="211.5" width="82" height="16" fill="none" stroke="#808080" stroke-width="1"/>
<rect x="187.5" y="212.5" width="80" height="14" fill="none" stroke="#dadada" stroke-width="1"/>
<clipPath id="c1860_2290"><rect x="186" y="229" width="83" height="20"/></clipPath>
<rect x="186" y="229" width="83" height="20" fill="#f7f7f7"/>
<g clip-path="url(#c1860_2290)">
<g filter="url(#bl)" opacity="1.0">
<rect x="187.75" y="233.65" width="19.70" height="8.50" rx="3.19" fill="#cfcfcf"/>
<rect x="208.15" y="233.65" width="19.70" height="8.50" rx="3.19" fill="#cfcfcf"/>
<rect x="227.95" y="233.65" width="19.70" height="8.50" rx="3.19" fill="#cfcfcf"/>
<rect x="248.35" y="233.65" width="19.70" height="8.50" rx="3.19" fill="#cfcfcf"/>
<rect x="188.50" y="236.95" width="18.20" height="4.50" rx="1.69" fill="#060606"/>
<rect x="208.90" y="236.95" width="18.20" height="4.50" rx="1.69" fill="#060606"/>
<rect x="228.70" y="236.95" width="18.20" height="4.50" rx="1.69" fill="#060606"/>
<rect x="249.10" y="236.95" width="18.20" height="4.50" rx="1.69" fill="#060606"/>
</g></g>
<rect x="186.5" y="229.5" width="82" height="19" fill="none" stroke="#808080" stroke-width="1"/>
<rect x="187.5" y="230.5" width="80" height="17" fill="none" stroke="#dadada" stroke-width="1"/>
<clipPath id="c1860_2500"><rect x="186" y="250" width="83" height="15"/></clipPath>
<rect x="186" y="250" width="83" height="15" fill="#f7f7f7"/>
<g clip-path="url(#c1860_2500)">
<g filter="url(#bl)" opacity="1.0">
<rect x="187.75" y="252.55" width="19.70" height="7.90" rx="2.96" fill="#cfcfcf"/>
<rect x="208.15" y="252.55" width="19.70" height="7.90" rx="2.96" fill="#cfcfcf"/>
<rect x="227.95" y="252.55" width="19.70" height="7.90" rx="2.96" fill="#cfcfcf"/>
<rect x="248.35" y="252.55" width="19.70" height="7.90" rx="2.96" fill="#cfcfcf"/>
<rect x="188.50" y="255.85" width="18.20" height="3.90" rx="1.46" fill="#060606"/>
<rect x="208.90" y="255.85" width="18.20" height="3.90" rx="1.46" fill="#060606"/>
<rect x="228.70" y="255.85" width="18.20" height="3.90" rx="1.46" fill="#060606"/>
<rect x="249.10" y="255.85" width="18.20" height="3.90" rx="1.46" fill="#060606"/>
</g></g>
<rect x="186.5" y="250.5" width="82" height="14" fill="none" stroke="#808080" stroke-width="1"/>
<rect x="187.5" y="251.5" width="80" height="12" fill="none" stroke="#dadada" stroke-width="1"/>
<clipPath id="c2710_520"><rect x="271" y="52" width="83" height="14"/></clipPath>
<rect x="271" y="52" width="83" height="14" fill="#f7f7f7"/>
<g clip-path="url(#c2710_520)">
<g filter="url(#bl)" opacity="1.0">
<rect x="333.35" y="56.65" width="19.70" height="8.10" rx="3.04" fill="#e4e4e4"/>
<rect x="312.95" y="56.15" width="19.70" height="8.10" rx="3.04" fill="#e0e0e0"/>
<rect x="313.70" y="53.05" width="18.20" height="4.90" rx="1.84" fill="#d1d1d1"/>
<rect x="334.10" y="53.05" width="18.20" height="4.90" rx="1.84" fill="#d1d1d1"/>
<rect x="272.75" y="52.05" width="19.70" height="8.10" rx="3.04" fill="#cfcfcf"/>
<rect x="293.15" y="54.25" width="19.70" height="8.10" rx="3.04" fill="#cfcfcf"/>
<rect x="334.10" y="59.95" width="18.20" height="4.10" rx="1.54" fill="#757575"/>
<rect x="313.70" y="59.45" width="18.20" height="4.10" rx="1.54" fill="#5c5c5c"/>
<rect x="273.50" y="55.35" width="18.20" height="4.10" rx="1.54" fill="#060606"/>
<rect x="293.90" y="57.55" width="18.20" height="4.10" rx="1.54" fill="#060606"/>
</g></g>
<rect x="271.5" y="52.5" width="82" height="13" fill="none" stroke="#808080" stroke-width="1"/>
<rect x="272.5" y="53.5" width="80" height="11" fill="none" stroke="#dadada" stroke-width="1"/>
<clipPath id="c2710_670"><rect x="271" y="67" width="83" height="14"/></clipPath>
<rect x="271" y="67" width="83" height="14" fill="#f7f7f7"/>
<g clip-path="url(#c2710_670)">
<g filter="url(#bl)" opacity="1.0">
<rect x="272.75" y="67.15" width="19.70" height="8.70" rx="3.26" fill="#cfcfcf"/>
<rect x="293.15" y="68.15" width="19.70" height="8.70" rx="3.26" fill="#cfcfcf"/>
<rect x="312.95" y="68.95" width="19.70" height="8.70" rx="3.26" fill="#cfcfcf"/>
<rect x="333.35" y="69.75" width="19.70" height="8.70" rx="3.26" fill="#cfcfcf"/>
<rect x="273.50" y="68.05" width="18.20" height="3.90" rx="1.46" fill="#a9a9a9"/>
<rect x="293.90" y="68.05" width="18.20" height="3.90" rx="1.46" fill="#a9a9a9"/>
<rect x="313.70" y="68.05" width="18.20" height="3.90" rx="1.46" fill="#a9a9a9"/>
<rect x="334.10" y="68.05" width="18.20" height="3.90" rx="1.46" fill="#a9a9a9"/>
<rect x="273.50" y="70.45" width="18.20" height="4.70" rx="1.76" fill="#060606"/>
<rect x="293.90" y="71.45" width="18.20" height="4.70" rx="1.76" fill="#060606"/>
<rect x="313.70" y="72.25" width="18.20" height="4.70" rx="1.76" fill="#060606"/>
<rect x="334.10" y="73.05" width="18.20" height="4.70" rx="1.76" fill="#060606"/>
</g></g>
<rect x="271.5" y="67.5" width="82" height="13" fill="none" stroke="#808080" stroke-width="1"/>
<rect x="272.5" y="68.5" width="80" height="11" fill="none" stroke="#dadada" stroke-width="1"/>
<clipPath id="c2710_820"><rect x="271" y="82" width="83" height="22"/></clipPath>
<rect x="271" y="82" width="83" height="22" fill="#f7f7f7"/>
<g clip-path="url(#c2710_820)">
<g filter="url(#bl)" opacity="1.0">
<rect x="312.95" y="84.70" width="19.70" height="7.40" rx="2.78" fill="#e2e2e2"/>
<rect x="272.15" y="82.85" width="20.90" height="10.90" rx="4.09" fill="#cecece"/>
<rect x="272.25" y="90.55" width="20.30" height="10.10" rx="3.79" fill="#cecece"/>
<rect x="272.25" y="86.45" width="15.70" height="10.90" rx="4.09" fill="#cecece"/>
<rect x="313.70" y="95.25" width="18.20" height="3.10" rx="1.16" fill="#8f8f8f"/>
<rect x="313.70" y="88.00" width="18.20" height="3.40" rx="1.27" fill="#686868"/>
<rect x="272.90" y="86.15" width="19.40" height="6.90" rx="2.59" fill="#040404"/>
<rect x="273.00" y="93.85" width="18.80" height="6.10" rx="2.29" fill="#040404"/>
<rect x="273.00" y="89.75" width="14.20" height="6.90" rx="2.59" fill="#040404"/>
</g></g>
<rect x="271.5" y="82.5" width="82" height="21" fill="none" stroke="#808080" stroke-width="1"/>
<rect x="272.5" y="83.5" width="80" height="19" fill="none" stroke="#dadada" stroke-width="1"/>
<clipPath id="c2710_1050"><rect x="271" y="105" width="83" height="21"/></clipPath>
<rect x="271" y="105" width="83" height="21" fill="#f7f7f7"/>
<g clip-path="url(#c2710_1050)">
<g filter="url(#bl)" opacity="1.0">
<rect x="272.75" y="112.45" width="19.70" height="8.10" rx="3.04" fill="#cfcfcf"/>
<rect x="293.15" y="113.05" width="19.70" height="8.10" rx="3.04" fill="#cfcfcf"/>
<rect x="312.95" y="113.65" width="19.70" height="8.10" rx="3.04" fill="#cfcfcf"/>
<rect x="333.35" y="114.65" width="19.70" height="8.10" rx="3.04" fill="#cfcfcf"/>
<rect x="273.00" y="106.35" width="19.20" height="7.90" rx="2.96" fill="#bebebe"/>
<rect x="293.40" y="106.35" width="19.20" height="7.90" rx="2.96" fill="#bebebe"/>
<rect x="313.20" y="106.35" width="19.20" height="7.90" rx="2.96" fill="#bebebe"/>
<rect x="333.60" y="106.35" width="19.20" height="7.90" rx="2.96" fill="#bebebe"/>
<rect x="273.00" y="112.65" width="19.20" height="3.90" rx="1.46" fill="#a1a1a1"/>
<rect x="293.40" y="113.25" width="19.20" height="3.90" rx="1.46" fill="#a1a1a1"/>
<rect x="313.20" y="113.85" width="19.20" height="3.90" rx="1.46" fill="#a1a1a1"/>
<rect x="333.60" y="114.65" width="19.20" height="3.90" rx="1.46" fill="#a1a1a1"/>
<rect x="273.50" y="115.75" width="18.20" height="4.10" rx="1.54" fill="#060606"/>
<rect x="293.90" y="116.35" width="18.20" height="4.10" rx="1.54" fill="#060606"/>
<rect x="313.70" y="116.95" width="18.20" height="4.10" rx="1.54" fill="#060606"/>
<rect x="334.10" y="117.95" width="18.20" height="4.10" rx="1.54" fill="#060606"/>
</g></g>
<rect x="271.5" y="105.5" width="82" height="20" fill="none" stroke="#808080" stroke-width="1"/>
<rect x="272.5" y="106.5" width="80" height="18" fill="none" stroke="#dadada" stroke-width="1"/>
<clipPath id="c2710_1270"><rect x="271" y="127" width="83" height="14"/></clipPath>
<rect x="271" y="127" width="83" height="14" fill="#f7f7f7"/>
<g clip-path="url(#c2710_1270)">
<g filter="url(#bl)" opacity="1.0">
<rect x="313.45" y="130.65" width="18.70" height="7.90" rx="2.96" fill="#e2e2e2"/>
<rect x="333.85" y="131.15" width="18.70" height="7.90" rx="2.96" fill="#e0e0e0"/>
<rect x="292.65" y="128.95" width="20.70" height="9.30" rx="3.49" fill="#d0d0d0"/>
<rect x="272.75" y="129.15" width="19.70" height="8.90" rx="3.34" fill="#cfcfcf"/>
<rect x="314.20" y="133.95" width="17.20" height="3.90" rx="1.46" fill="#686868"/>
<rect x="334.60" y="134.45" width="17.20" height="3.90" rx="1.46" fill="#5c5c5c"/>
<rect x="293.40" y="132.25" width="19.20" height="5.30" rx="1.99" fill="#0b0b0b"/>
<rect x="273.50" y="132.45" width="18.20" height="4.90" rx="1.84" fill="#060606"/>
</g></g>
<rect x="271.5" y="127.5" width="82" height="13" fill="none" stroke="#808080" stroke-width="1"/>
<rect x="272.5" y="128.5" width="80" height="11" fill="none" stroke="#dadada" stroke-width="1"/>
<clipPath id="c2710_1430"><rect x="271" y="143" width="83" height="13"/></clipPath>
<rect x="271" y="143" width="83" height="13" fill="#f7f7f7"/>
<g clip-path="url(#c2710_1430)">
<g filter="url(#bl)" opacity="1.0">
<rect x="272.75" y="142.05" width="19.70" height="7.90" rx="2.96" fill="#d7d7d7"/>
<rect x="293.15" y="142.05" width="19.70" height="7.90" rx="2.96" fill="#d7d7d7"/>
<rect x="312.95" y="142.05" width="19.70" height="7.90" rx="2.96" fill="#d7d7d7"/>
<rect x="333.35" y="142.05" width="19.70" height="7.90" rx="2.96" fill="#d7d7d7"/>
<rect x="272.75" y="145.75" width="19.70" height="8.50" rx="3.19" fill="#cfcfcf"/>
<rect x="293.15" y="145.75" width="19.70" height="8.50" rx="3.19" fill="#cfcfcf"/>
<rect x="312.95" y="145.75" width="19.70" height="8.50" rx="3.19" fill="#cfcfcf"/>
<rect x="333.35" y="145.75" width="19.70" height="8.50" rx="3.19" fill="#cfcfcf"/>
<rect x="273.50" y="145.35" width="18.20" height="3.90" rx="1.46" fill="#2c2c2c"/>
<rect x="293.90" y="145.35" width="18.20" height="3.90" rx="1.46" fill="#2c2c2c"/>
<rect x="313.70" y="145.35" width="18.20" height="3.90" rx="1.46" fill="#2c2c2c"/>
<rect x="334.10" y="145.35" width="18.20" height="3.90" rx="1.46" fill="#2c2c2c"/>
<rect x="273.50" y="149.05" width="18.20" height="4.50" rx="1.69" fill="#060606"/>
<rect x="293.90" y="149.05" width="18.20" height="4.50" rx="1.69" fill="#060606"/>
<rect x="313.70" y="149.05" width="18.20" height="4.50" rx="1.69" fill="#060606"/>
<rect x="334.10" y="149.05" width="18.20" height="4.50" rx="1.69" fill="#060606"/>
</g></g>
<rect x="271.5" y="143.5" width="82" height="12" fill="none" stroke="#808080" stroke-width="1"/>
<rect x="272.5" y="144.5" width="80" height="10" fill="none" stroke="#dadada" stroke-width="1"/>
<clipPath id="c2710_1580"><rect x="271" y="158" width="83" height="12"/></clipPath>
<rect x="271" y="158" width="83" height="12" fill="#ececec"/>
<g clip-path="url(#c2710_1580)">
<g filter="url(#bl)" opacity="1.0">
<rect x="272.75" y="157.80" width="19.70" height="9.40" rx="3.53" fill="#cfcfcf"/>
<rect x="293.65" y="157.80" width="18.70" height="9.40" rx="3.53" fill="#cfcfcf"/>
<rect x="273.50" y="161.10" width="18.20" height="5.40" rx="2.03" fill="#060606"/>
<rect x="294.40" y="161.10" width="17.20" height="5.40" rx="2.03" fill="#060606"/>
</g></g>
<rect x="271.5" y="158.5" width="82" height="11" fill="none" stroke="#808080" stroke-width="1"/>
<rect x="272.5" y="159.5" width="80" height="9" fill="none" stroke="#dadada" stroke-width="1"/>
<clipPath id="c2710_1720"><rect x="271" y="172" width="83" height="16"/></clipPath>
<rect x="271" y="172" width="83" height="16" fill="#f7f7f7"/>
<g clip-path="url(#c2710_1720)">
<g filter="url(#bl)" opacity="1.0">
<rect x="272.75" y="177.35" width="19.70" height="8.50" rx="3.19" fill="#d4d4d4"/>
<rect x="293.15" y="177.35" width="19.70" height="8.50" rx="3.19" fill="#d4d4d4"/>
<rect x="312.95" y="177.35" width="19.70" height="8.50" rx="3.19" fill="#d4d4d4"/>
<rect x="333.35" y="177.35" width="19.70" height="8.50" rx="3.19" fill="#d4d4d4"/>
<rect x="272.75" y="170.85" width="19.70" height="8.10" rx="3.04" fill="#cfcfcf"/>
<rect x="293.15" y="170.85" width="19.70" height="8.10" rx="3.04" fill="#cfcfcf"/>
<rect x="312.95" y="170.85" width="19.70" height="8.10" rx="3.04" fill="#cfcfcf"/>
<rect x="333.35" y="170.85" width="19.70" height="8.10" rx="3.04" fill="#cfcfcf"/>
<rect x="273.50" y="180.65" width="18.20" height="4.50" rx="1.69" fill="#1f1f1f"/>
<rect x="293.90" y="180.65" width="18.20" height="4.50" rx="1.69" fill="#1f1f1f"/>
<rect x="313.70" y="180.65" width="18.20" height="4.50" rx="1.69" fill="#1f1f1f"/>
<rect x="334.10" y="180.65" width="18.20" height="4.50" rx="1.69" fill="#1f1f1f"/>
<rect x="273.50" y="174.15" width="18.20" height="4.10" rx="1.54" fill="#060606"/>
<rect x="293.90" y="174.15" width="18.20" height="4.10" rx="1.54" fill="#060606"/>
<rect x="313.70" y="174.15" width="18.20" height="4.10" rx="1.54" fill="#060606"/>
<rect x="334.10" y="174.15" width="18.20" height="4.10" rx="1.54" fill="#060606"/>
</g></g>
<rect x="271.5" y="172.5" width="82" height="15" fill="none" stroke="#808080" stroke-width="1"/>
<rect x="272.5" y="173.5" width="80" height="13" fill="none" stroke="#dadada" stroke-width="1"/>
<clipPath id="c2710_1900"><rect x="271" y="190" width="83" height="19"/></clipPath>
<rect x="271" y="190" width="83" height="19" fill="#f7f7f7"/>
<g clip-path="url(#c2710_1900)">
<g filter="url(#bl)" opacity="1.0">
<rect x="332.85" y="196.65" width="20.70" height="8.10" rx="3.04" fill="#e0e0e0"/>
<rect x="313.45" y="196.65" width="18.70" height="8.10" rx="3.04" fill="#dcdcdc"/>
<rect x="293.15" y="196.25" width="19.70" height="8.90" rx="3.34" fill="#d2d2d2"/>
<rect x="270.50" y="194.75" width="24.20" height="11.90" rx="4.46" fill="#cecece"/>
<rect x="333.60" y="199.95" width="19.20" height="4.10" rx="1.54" fill="#5c5c5c"/>
<rect x="314.20" y="199.95" width="17.20" height="4.10" rx="1.54" fill="#484848"/>
<rect x="293.90" y="199.55" width="18.20" height="4.90" rx="1.84" fill="#121212"/>
<rect x="271.25" y="198.05" width="22.70" height="7.90" rx="2.96" fill="#040404"/>
</g></g>
<rect x="271.5" y="190.5" width="82" height="18" fill="none" stroke="#808080" stroke-width="1"/>
<rect x="272.5" y="191.5" width="80" height="16" fill="none" stroke="#dadada" stroke-width="1"/>
<clipPath id="c2710_2110"><rect x="271" y="211" width="83" height="17"/></clipPath>
<rect x="271" y="211" width="83" height="17" fill="#f7f7f7"/>
<g clip-path="url(#c2710_2110)">
<g filter="url(#bl)" opacity="1.0">
<rect x="332.85" y="213.85" width="20.70" height="7.70" rx="2.89" fill="#dbdbdb"/>
<rect x="312.95" y="213.85" width="19.70" height="7.70" rx="2.89" fill="#d9d9d9"/>
<rect x="292.65" y="213.55" width="20.70" height="8.30" rx="3.11" fill="#d2d2d2"/>
<rect x="270.50" y="212.45" width="24.20" height="10.50" rx="3.94" fill="#cecece"/>
<rect x="333.60" y="217.15" width="19.20" height="3.70" rx="1.39" fill="#444444"/>
<rect x="313.70" y="217.15" width="18.20" height="3.70" rx="1.39" fill="#383838"/>
<rect x="293.40" y="216.85" width="19.20" height="4.30" rx="1.61" fill="#121212"/>
<rect x="271.25" y="215.75" width="22.70" height="6.50" rx="2.44" fill="#040404"/>
</g></g>
<rect x="271.5" y="211.5" width="82" height="16" fill="none" stroke="#808080" stroke-width="1"/>
<rect x="272.5" y="212.5" width="80" height="14" fill="none" stroke="#dadada" stroke-width="1"/>
<clipPath id="c2710_2290"><rect x="271" y="229" width="83" height="20"/></clipPath>
<rect x="271" y="229" width="83" height="20" fill="#f7f7f7"/>
<g clip-path="url(#c2710_2290)">
<g filter="url(#bl)" opacity="1.0">
<rect x="272.75" y="234.25" width="19.70" height="8.90" rx="3.34" fill="#cfcfcf"/>
<rect x="293.15" y="234.25" width="19.70" height="8.90" rx="3.34" fill="#cfcfcf"/>
<rect x="312.95" y="234.25" width="19.70" height="8.90" rx="3.34" fill="#cfcfcf"/>
<rect x="333.35" y="234.25" width="19.70" height="8.90" rx="3.34" fill="#cfcfcf"/>
<rect x="273.50" y="237.55" width="18.20" height="4.90" rx="1.84" fill="#060606"/>
<rect x="293.90" y="237.55" width="18.20" height="4.90" rx="1.84" fill="#060606"/>
<rect x="313.70" y="237.55" width="18.20" height="4.90" rx="1.84" fill="#060606"/>
<rect x="334.10" y="237.55" width="18.20" height="4.90" rx="1.84" fill="#060606"/>
</g></g>
<rect x="271.5" y="229.5" width="82" height="19" fill="none" stroke="#808080" stroke-width="1"/>
<rect x="272.5" y="230.5" width="80" height="17" fill="none" stroke="#dadada" stroke-width="1"/>
<clipPath id="c2710_2500"><rect x="271" y="250" width="83" height="15"/></clipPath>
<rect x="271" y="250" width="83" height="15" fill="#f7f7f7"/>
<g clip-path="url(#c2710_2500)">
<g filter="url(#bl)" opacity="1.0">
<rect x="272.75" y="251.85" width="19.70" height="8.50" rx="3.19" fill="#cfcfcf"/>
<rect x="293.15" y="251.85" width="19.70" height="8.50" rx="3.19" fill="#cfcfcf"/>
<rect x="312.95" y="251.85" width="19.70" height="8.50" rx="3.19" fill="#cfcfcf"/>
<rect x="333.35" y="251.85" width="19.70" height="8.50" rx="3.19" fill="#cfcfcf"/>
<rect x="273.50" y="255.15" width="18.20" height="4.50" rx="1.69" fill="#060606"/>
<rect x="293.90" y="255.15" width="18.20" height="4.50" rx="1.69" fill="#060606"/>
<rect x="313.70" y="255.15" width="18.20" height="4.50" rx="1.69" fill="#060606"/>
<rect x="334.10" y="255.15" width="18.20" height="4.50" rx="1.69" fill="#060606"/>
</g></g>
<rect x="271.5" y="250.5" width="82" height="14" fill="none" stroke="#808080" stroke-width="1"/>
<rect x="272.5" y="251.5" width="80" height="12" fill="none" stroke="#dadada" stroke-width="1"/>
<text x="142.5" y="276.2" font-size="9.6" text-anchor="middle" font-weight="normal" font-style="normal" fill="#111"  stroke="#111" stroke-width="0.22"><tspan font-style="italic">JAK2</tspan> R683G</text>
<text x="227.5" y="276.2" font-size="9.6" text-anchor="middle" font-weight="normal" font-style="normal" fill="#111"  stroke="#111" stroke-width="0.22"><tspan font-style="italic">JAK2</tspan> I682F</text>
<text x="227.5" y="287.4" font-size="9.6" text-anchor="middle" font-weight="normal" font-style="normal" fill="#111"  stroke="#111" stroke-width="0.22">*<tspan font-style="italic">KRAS</tspan> L23R</text>
<text x="312.5" y="276.2" font-size="9.6" text-anchor="middle" font-weight="normal" font-style="normal" fill="#111"  stroke="#111" stroke-width="0.22"><tspan font-style="italic">JAK2</tspan> R683G</text>
<text x="312.5" y="287.4" font-size="9.6" text-anchor="middle" font-weight="normal" font-style="normal" fill="#cf1a45"  stroke="#cf1a45" stroke-width="0.22"><tspan font-style="italic">KRAS</tspan> G13D</text>
<text x="8.4" y="303.4" font-size="12.6" text-anchor="start" font-weight="bold" font-style="normal" fill="#111" stroke="#111" stroke-width="0.4">B</text>
<text x="143.25" y="305.2" font-size="11" text-anchor="middle" font-weight="normal" font-style="normal" fill="#111"  stroke="#111" stroke-width="0.22">BALL091</text>
<text x="111.5" y="318.6" font-size="10.6" text-anchor="middle" font-weight="normal" font-style="normal" fill="#111"  stroke="#111" stroke-width="0.22">–</text>
<text x="111.5" y="330.1" font-size="10.6" text-anchor="middle" font-weight="normal" font-style="normal" fill="#111"  stroke="#111" stroke-width="0.22">–</text>
<text x="133.3" y="318.6" font-size="10.6" text-anchor="middle" font-weight="normal" font-style="normal" fill="#111"  stroke="#111" stroke-width="0.22">+</text>
<text x="133.3" y="330.1" font-size="10.6" text-anchor="middle" font-weight="normal" font-style="normal" fill="#111"  stroke="#111" stroke-width="0.22">–</text>
<text x="153.8" y="318.6" font-size="10.6" text-anchor="middle" font-weight="normal" font-style="normal" fill="#111"  stroke="#111" stroke-width="0.22">–</text>
<text x="153.8" y="330.1" font-size="10.6" text-anchor="middle" font-weight="normal" font-style="normal" fill="#111"  stroke="#111" stroke-width="0.22">+</text>
<text x="174.4" y="318.6" font-size="10.6" text-anchor="middle" font-weight="normal" font-style="normal" fill="#111"  stroke="#111" stroke-width="0.22">+</text>
<text x="174.4" y="330.1" font-size="10.6" text-anchor="middle" font-weight="normal" font-style="normal" fill="#111"  stroke="#111" stroke-width="0.22">+</text>
<text x="231.0" y="305.2" font-size="11" text-anchor="middle" font-weight="normal" font-style="normal" fill="#111"  stroke="#111" stroke-width="0.22">BALL137</text>
<text x="199.0" y="318.6" font-size="10.6" text-anchor="middle" font-weight="normal" font-style="normal" fill="#111"  stroke="#111" stroke-width="0.22">–</text>
<text x="199.0" y="330.1" font-size="10.6" text-anchor="middle" font-weight="normal" font-style="normal" fill="#111"  stroke="#111" stroke-width="0.22">–</text>
<text x="220.8" y="318.6" font-size="10.6" text-anchor="middle" font-weight="normal" font-style="normal" fill="#111"  stroke="#111" stroke-width="0.22">+</text>
<text x="220.8" y="330.1" font-size="10.6" text-anchor="middle" font-weight="normal" font-style="normal" fill="#111"  stroke="#111" stroke-width="0.22">–</text>
<text x="241.3" y="318.6" font-size="10.6" text-anchor="middle" font-weight="normal" font-style="normal" fill="#111"  stroke="#111" stroke-width="0.22">–</text>
<text x="241.3" y="330.1" font-size="10.6" text-anchor="middle" font-weight="normal" font-style="normal" fill="#111"  stroke="#111" stroke-width="0.22">+</text>
<text x="261.9" y="318.6" font-size="10.6" text-anchor="middle" font-weight="normal" font-style="normal" fill="#111"  stroke="#111" stroke-width="0.22">+</text>
<text x="261.9" y="330.1" font-size="10.6" text-anchor="middle" font-weight="normal" font-style="normal" fill="#111"  stroke="#111" stroke-width="0.22">+</text>
<text x="318.5" y="305.2" font-size="11" text-anchor="middle" font-weight="normal" font-style="normal" fill="#111"  stroke="#111" stroke-width="0.22">BALL142</text>
<text x="286.5" y="318.6" font-size="10.6" text-anchor="middle" font-weight="normal" font-style="normal" fill="#111"  stroke="#111" stroke-width="0.22">–</text>
<text x="286.5" y="330.1" font-size="10.6" text-anchor="middle" font-weight="normal" font-style="normal" fill="#111"  stroke="#111" stroke-width="0.22">–</text>
<text x="308.3" y="318.6" font-size="10.6" text-anchor="middle" font-weight="normal" font-style="normal" fill="#111"  stroke="#111" stroke-width="0.22">+</text>
<text x="308.3" y="330.1" font-size="10.6" text-anchor="middle" font-weight="normal" font-style="normal" fill="#111"  stroke="#111" stroke-width="0.22">–</text>
<text x="328.8" y="318.6" font-size="10.6" text-anchor="middle" font-weight="normal" font-style="normal" fill="#111"  stroke="#111" stroke-width="0.22">–</text>
<text x="328.8" y="330.1" font-size="10.6" text-anchor="middle" font-weight="normal" font-style="normal" fill="#111"  stroke="#111" stroke-width="0.22">+</text>
<text x="349.4" y="318.6" font-size="10.6" text-anchor="middle" font-weight="normal" font-style="normal" fill="#111"  stroke="#111" stroke-width="0.22">+</text>
<text x="349.4" y="330.1" font-size="10.6" text-anchor="middle" font-weight="normal" font-style="normal" fill="#111"  stroke="#111" stroke-width="0.22">+</text>
<text x="405.75" y="305.2" font-size="11" text-anchor="middle" font-weight="normal" font-style="normal" fill="#111"  stroke="#111" stroke-width="0.22">BALL160</text>
<text x="373.5" y="318.6" font-size="10.6" text-anchor="middle" font-weight="normal" font-style="normal" fill="#111"  stroke="#111" stroke-width="0.22">–</text>
<text x="373.5" y="330.1" font-size="10.6" text-anchor="middle" font-weight="normal" font-style="normal" fill="#111"  stroke="#111" stroke-width="0.22">–</text>
<text x="395.3" y="318.6" font-size="10.6" text-anchor="middle" font-weight="normal" font-style="normal" fill="#111"  stroke="#111" stroke-width="0.22">+</text>
<text x="395.3" y="330.1" font-size="10.6" text-anchor="middle" font-weight="normal" font-style="normal" fill="#111"  stroke="#111" stroke-width="0.22">–</text>
<text x="415.8" y="318.6" font-size="10.6" text-anchor="middle" font-weight="normal" font-style="normal" fill="#111"  stroke="#111" stroke-width="0.22">–</text>
<text x="415.8" y="330.1" font-size="10.6" text-anchor="middle" font-weight="normal" font-style="normal" fill="#111"  stroke="#111" stroke-width="0.22">+</text>
<text x="436.4" y="318.6" font-size="10.6" text-anchor="middle" font-weight="normal" font-style="normal" fill="#111"  stroke="#111" stroke-width="0.22">+</text>
<text x="436.4" y="330.1" font-size="10.6" text-anchor="middle" font-weight="normal" font-style="normal" fill="#111"  stroke="#111" stroke-width="0.22">+</text>
<text x="97.5" y="318.6" font-size="10.8" text-anchor="end" font-weight="normal" font-style="normal" fill="#111"  stroke="#111" stroke-width="0.22">Ruxo (1<tspan font-style="italic">µ</tspan>M)</text>
<text x="97.5" y="330.4" font-size="10.8" text-anchor="end" font-weight="normal" font-style="normal" fill="#111"  stroke="#111" stroke-width="0.22">Gilt (1<tspan font-style="italic">µ</tspan>M)</text>
<text x="97.6" y="345.00" font-size="10.8" text-anchor="end" font-weight="normal" font-style="normal" fill="#111"  stroke="#111" stroke-width="0.22">pCRKL</text>
<text x="97.6" y="362.30" font-size="10.8" text-anchor="end" font-weight="normal" font-style="normal" fill="#111"  stroke="#111" stroke-width="0.22">CRKL</text>
<text x="97.6" y="381.90" font-size="10.8" text-anchor="end" font-weight="normal" font-style="normal" fill="#111"  stroke="#111" stroke-width="0.22">pSTAT5</text>
<text x="97.6" y="403.75" font-size="10.8" text-anchor="end" font-weight="normal" font-style="normal" fill="#111"  stroke="#111" stroke-width="0.22">STAT5</text>
<text x="97.6" y="425.30" font-size="10.8" text-anchor="end" font-weight="normal" font-style="normal" fill="#111"  stroke="#111" stroke-width="0.22">pERK1/2</text>
<text x="97.6" y="442.80" font-size="10.8" text-anchor="end" font-weight="normal" font-style="normal" fill="#111"  stroke="#111" stroke-width="0.22">ERK1/2</text>
<text x="97.6" y="462.50" font-size="10.8" text-anchor="end" fill="#111" stroke="#111" stroke-width="0.22">pS6<tspan font-size="8.7" dy="-3.9">S235/236</tspan></text>
<text x="97.6" y="480.60" font-size="10.8" text-anchor="end" fill="#111" stroke="#111" stroke-width="0.22">pS6<tspan font-size="8.7" dy="-3.9">S240/244</tspan></text>
<text x="97.6" y="498.75" font-size="10.8" text-anchor="end" font-weight="normal" font-style="normal" fill="#111"  stroke="#111" stroke-width="0.22">S6</text>
<text x="97.6" y="517.25" font-size="10.8" text-anchor="end" font-weight="normal" font-style="normal" fill="#111"  stroke="#111" stroke-width="0.22">β-actin</text>
<rect x="101" y="333.5" width="347.5" height="190.7" fill="#b4b4b4"/>
<clipPath id="c1010_3340"><rect x="101" y="334" width="85" height="16"/></clipPath>
<rect x="101" y="334" width="85" height="16" fill="#e6e6e6"/>
<g clip-path="url(#c1010_3340)">
<rect x="101" y="334" width="85" height="16" fill="#e6e6e6" filter="url(#nz3)"/>
<g filter="url(#bl)" opacity="1.0">
<rect x="143.55" y="335.25" width="20.10" height="8.90" rx="3.34" fill="#e4e4e4"/>
<rect x="102.25" y="335.25" width="20.10" height="8.90" rx="3.34" fill="#cfcfcf"/>
<rect x="122.95" y="335.25" width="20.10" height="8.90" rx="3.34" fill="#cfcfcf"/>
<rect x="164.70" y="338.55" width="18.60" height="4.90" rx="1.84" fill="#8f8f8f"/>
<rect x="144.30" y="338.55" width="18.60" height="4.90" rx="1.84" fill="#757575"/>
<rect x="103.00" y="338.55" width="18.60" height="4.90" rx="1.84" fill="#060606"/>
<rect x="123.70" y="338.55" width="18.60" height="4.90" rx="1.84" fill="#060606"/>
</g></g>
<rect x="101.5" y="334.5" width="84" height="15" fill="none" stroke="#808080" stroke-width="1"/>
<rect x="102.5" y="335.5" width="82" height="13" fill="none" stroke="#dadada" stroke-width="1"/>
<clipPath id="c1010_3520"><rect x="101" y="352" width="85" height="16"/></clipPath>
<rect x="101" y="352" width="85" height="16" fill="#f7f7f7"/>
<g clip-path="url(#c1010_3520)">
<g filter="url(#bl)" opacity="1.0">
<rect x="102.25" y="354.65" width="20.10" height="9.10" rx="3.41" fill="#cfcfcf"/>
<rect x="122.95" y="354.65" width="20.10" height="9.10" rx="3.41" fill="#cfcfcf"/>
<rect x="143.55" y="354.65" width="20.10" height="9.10" rx="3.41" fill="#cfcfcf"/>
<rect x="163.95" y="354.65" width="20.10" height="9.10" rx="3.41" fill="#cfcfcf"/>
<rect x="103.00" y="357.95" width="18.60" height="5.10" rx="1.91" fill="#060606"/>
<rect x="123.70" y="357.95" width="18.60" height="5.10" rx="1.91" fill="#060606"/>
<rect x="144.30" y="357.95" width="18.60" height="5.10" rx="1.91" fill="#060606"/>
<rect x="164.70" y="357.95" width="18.60" height="5.10" rx="1.91" fill="#060606"/>
</g></g>
<rect x="101.5" y="352.5" width="84" height="15" fill="none" stroke="#808080" stroke-width="1"/>
<rect x="102.5" y="353.5" width="82" height="13" fill="none" stroke="#dadada" stroke-width="1"/>
<clipPath id="c1010_3700"><rect x="101" y="370" width="85" height="19"/></clipPath>
<rect x="101" y="370" width="85" height="19" fill="#e8e8e8"/>
<g clip-path="url(#c1010_3700)">
<rect x="101" y="370" width="85" height="19" fill="#e8e8e8" filter="url(#nz1)"/>
<g filter="url(#bl)" opacity="1.0">
<rect x="103.00" y="381.80" width="18.60" height="4.00" rx="1.50" fill="#c4c4c4"/>
<rect x="103.00" y="375.90" width="18.60" height="4.00" rx="1.50" fill="#b6b6b6"/>
</g></g>
<rect x="101.5" y="370.5" width="84" height="18" fill="none" stroke="#808080" stroke-width="1"/>
<rect x="102.5" y="371.5" width="82" height="16" fill="none" stroke="#dadada" stroke-width="1"/>
<clipPath id="c1010_3910"><rect x="101" y="391" width="85" height="22"/></clipPath>
<rect x="101" y="391" width="85" height="22" fill="#f7f7f7"/>
<g clip-path="url(#c1010_3910)">
<g filter="url(#bl)" opacity="1.0">
<rect x="102.25" y="389.05" width="20.10" height="8.50" rx="3.19" fill="#d3d3d3"/>
<rect x="122.95" y="391.15" width="20.10" height="8.50" rx="3.19" fill="#d3d3d3"/>
<rect x="143.55" y="393.25" width="20.10" height="8.50" rx="3.19" fill="#d3d3d3"/>
<rect x="163.95" y="395.25" width="20.10" height="8.50" rx="3.19" fill="#d3d3d3"/>
<rect x="101.75" y="395.85" width="21.10" height="10.50" rx="3.94" fill="#cecece"/>
<rect x="122.45" y="397.85" width="21.10" height="10.50" rx="3.94" fill="#cecece"/>
<rect x="143.05" y="399.85" width="21.10" height="10.50" rx="3.94" fill="#cecece"/>
<rect x="163.45" y="401.85" width="21.10" height="10.50" rx="3.94" fill="#cecece"/>
<rect x="102.50" y="395.25" width="19.60" height="6.50" rx="2.44" fill="#a9a9a9"/>
<rect x="123.20" y="397.35" width="19.60" height="6.50" rx="2.44" fill="#a9a9a9"/>
<rect x="143.80" y="399.45" width="19.60" height="6.50" rx="2.44" fill="#a9a9a9"/>
<rect x="164.20" y="401.45" width="19.60" height="6.50" rx="2.44" fill="#a9a9a9"/>
<rect x="103.00" y="392.35" width="18.60" height="4.50" rx="1.69" fill="#171717"/>
<rect x="123.70" y="394.45" width="18.60" height="4.50" rx="1.69" fill="#171717"/>
<rect x="144.30" y="396.55" width="18.60" height="4.50" rx="1.69" fill="#171717"/>
<rect x="164.70" y="398.55" width="18.60" height="4.50" rx="1.69" fill="#171717"/>
<rect x="102.50" y="399.15" width="19.60" height="6.50" rx="2.44" fill="#040404"/>
<rect x="123.20" y="401.15" width="19.60" height="6.50" rx="2.44" fill="#040404"/>
<rect x="143.80" y="403.15" width="19.60" height="6.50" rx="2.44" fill="#040404"/>
<rect x="164.20" y="405.15" width="19.60" height="6.50" rx="2.44" fill="#040404"/>
</g></g>
<rect x="101.5" y="391.5" width="84" height="21" fill="none" stroke="#808080" stroke-width="1"/>
<rect x="102.5" y="392.5" width="82" height="19" fill="none" stroke="#dadada" stroke-width="1"/>
<clipPath id="c1010_4150"><rect x="101" y="415" width="85" height="15"/></clipPath>
<rect x="101" y="415" width="85" height="15" fill="#f7f7f7"/>
<g clip-path="url(#c1010_4150)">
<g filter="url(#bl)" opacity="1.0">
<rect x="163.95" y="419.45" width="20.10" height="8.90" rx="3.34" fill="#e4e4e4"/>
<rect x="143.55" y="419.45" width="20.10" height="8.90" rx="3.34" fill="#e0e0e0"/>
<rect x="164.70" y="417.60" width="18.60" height="4.00" rx="1.50" fill="#dfdfdf"/>
<rect x="144.30" y="417.60" width="18.60" height="4.00" rx="1.50" fill="#d1d1d1"/>
<rect x="102.25" y="419.45" width="20.10" height="8.90" rx="3.34" fill="#cfcfcf"/>
<rect x="122.95" y="419.45" width="20.10" height="8.90" rx="3.34" fill="#cfcfcf"/>
<rect x="123.70" y="417.60" width="18.60" height="4.00" rx="1.50" fill="#b6b6b6"/>
<rect x="103.00" y="417.60" width="18.60" height="4.00" rx="1.50" fill="#a9a9a9"/>
<rect x="164.70" y="422.75" width="18.60" height="4.90" rx="1.84" fill="#757575"/>
<rect x="144.30" y="422.75" width="18.60" height="4.90" rx="1.84" fill="#5c5c5c"/>
<rect x="103.00" y="422.75" width="18.60" height="4.90" rx="1.84" fill="#060606"/>
<rect x="123.70" y="422.75" width="18.60" height="4.90" rx="1.84" fill="#060606"/>
</g></g>
<rect x="101.5" y="415.5" width="84" height="14" fill="none" stroke="#808080" stroke-width="1"/>
<rect x="102.5" y="416.5" width="82" height="12" fill="none" stroke="#dadada" stroke-width="1"/>
<clipPath id="c1010_4330"><rect x="101" y="433" width="85" height="15"/></clipPath>
<rect x="101" y="433" width="85" height="15" fill="#f7f7f7"/>
<g clip-path="url(#c1010_4330)">
<g filter="url(#bl)" opacity="1.0">
<rect x="102.25" y="438.65" width="20.10" height="9.10" rx="3.41" fill="#cfcfcf"/>
<rect x="122.95" y="438.65" width="20.10" height="9.10" rx="3.41" fill="#cfcfcf"/>
<rect x="143.55" y="438.65" width="20.10" height="9.10" rx="3.41" fill="#cfcfcf"/>
<rect x="163.95" y="438.65" width="20.10" height="9.10" rx="3.41" fill="#cfcfcf"/>
<rect x="103.00" y="436.70" width="18.60" height="4.00" rx="1.50" fill="#a9a9a9"/>
<rect x="123.70" y="436.70" width="18.60" height="4.00" rx="1.50" fill="#a9a9a9"/>
<rect x="144.30" y="436.70" width="18.60" height="4.00" rx="1.50" fill="#a9a9a9"/>
<rect x="164.70" y="436.70" width="18.60" height="4.00" rx="1.50" fill="#a9a9a9"/>
<rect x="103.00" y="441.95" width="18.60" height="5.10" rx="1.91" fill="#060606"/>
<rect x="123.70" y="441.95" width="18.60" height="5.10" rx="1.91" fill="#060606"/>
<rect x="144.30" y="441.95" width="18.60" height="5.10" rx="1.91" fill="#060606"/>
<rect x="164.70" y="441.95" width="18.60" height="5.10" rx="1.91" fill="#060606"/>
</g></g>
<rect x="101.5" y="433.5" width="84" height="14" fill="none" stroke="#808080" stroke-width="1"/>
<rect x="102.5" y="434.5" width="82" height="12" fill="none" stroke="#dadada" stroke-width="1"/>
<clipPath id="c1010_4500"><rect x="101" y="450" width="85" height="17"/></clipPath>
<rect x="101" y="450" width="85" height="17" fill="#f7f7f7"/>
<g clip-path="url(#c1010_4500)">
<g filter="url(#bl)" opacity="1.0">
<rect x="122.45" y="451.95" width="21.10" height="10.50" rx="3.94" fill="#cfcfcf"/>
<rect x="100.75" y="451.45" width="23.10" height="11.50" rx="4.31" fill="#cecece"/>
<rect x="165.20" y="456.25" width="17.60" height="4.50" rx="1.69" fill="#c4c4c4"/>
<rect x="144.80" y="456.25" width="17.60" height="4.50" rx="1.69" fill="#9c9c9c"/>
<rect x="123.20" y="455.25" width="19.60" height="6.50" rx="2.44" fill="#060606"/>
<rect x="101.50" y="454.75" width="21.60" height="7.50" rx="2.81" fill="#040404"/>
</g></g>
<rect x="101.5" y="450.5" width="84" height="16" fill="none" stroke="#808080" stroke-width="1"/>
<rect x="102.5" y="451.5" width="82" height="14" fill="none" stroke="#dadada" stroke-width="1"/>
<clipPath id="c1010_4700"><rect x="101" y="470" width="85" height="16"/></clipPath>
<rect x="101" y="470" width="85" height="16" fill="#f7f7f7"/>
<g clip-path="url(#c1010_4700)">
<g filter="url(#bl)" opacity="1.0">
<rect x="101.75" y="473.15" width="21.10" height="8.70" rx="3.26" fill="#d9d9d9"/>
<rect x="122.95" y="473.15" width="20.10" height="8.70" rx="3.26" fill="#d8d8d8"/>
<rect x="165.20" y="476.95" width="17.60" height="3.70" rx="1.39" fill="#a9a9a9"/>
<rect x="144.80" y="476.75" width="17.60" height="4.10" rx="1.54" fill="#8f8f8f"/>
<rect x="102.50" y="476.45" width="19.60" height="4.70" rx="1.76" fill="#383838"/>
<rect x="123.70" y="476.45" width="18.60" height="4.70" rx="1.76" fill="#313131"/>
</g></g>
<rect x="101.5" y="470.5" width="84" height="15" fill="none" stroke="#808080" stroke-width="1"/>
<rect x="102.5" y="471.5" width="82" height="13" fill="none" stroke="#dadada" stroke-width="1"/>
<clipPath id="c1010_4880"><rect x="101" y="488" width="85" height="17"/></clipPath>
<rect x="101" y="488" width="85" height="17" fill="#f7f7f7"/>
<g clip-path="url(#c1010_4880)">
<g filter="url(#bl)" opacity="1.0">
<rect x="102.25" y="489.85" width="20.10" height="9.30" rx="3.49" fill="#cfcfcf"/>
<rect x="122.95" y="490.85" width="20.10" height="9.30" rx="3.49" fill="#cfcfcf"/>
<rect x="143.55" y="491.85" width="20.10" height="9.30" rx="3.49" fill="#cfcfcf"/>
<rect x="163.95" y="493.05" width="20.10" height="9.30" rx="3.49" fill="#cfcfcf"/>
<rect x="103.00" y="493.15" width="18.60" height="5.30" rx="1.99" fill="#060606"/>
<rect x="123.70" y="494.15" width="18.60" height="5.30" rx="1.99" fill="#060606"/>
<rect x="144.30" y="495.15" width="18.60" height="5.30" rx="1.99" fill="#060606"/>
<rect x="164.70" y="496.35" width="18.60" height="5.30" rx="1.99" fill="#060606"/>
</g></g>
<rect x="101.5" y="488.5" width="84" height="16" fill="none" stroke="#808080" stroke-width="1"/>
<rect x="102.5" y="489.5" width="82" height="14" fill="none" stroke="#dadada" stroke-width="1"/>
<clipPath id="c1010_5070"><rect x="101" y="507" width="85" height="17"/></clipPath>
<rect x="101" y="507" width="85" height="17" fill="#f7f7f7"/>
<g clip-path="url(#c1010_5070)">
<g filter="url(#bl)" opacity="1.0">
<rect x="102.25" y="509.35" width="20.10" height="8.50" rx="3.19" fill="#cfcfcf"/>
<rect x="122.95" y="509.35" width="20.10" height="8.50" rx="3.19" fill="#cfcfcf"/>
<rect x="143.55" y="509.35" width="20.10" height="8.50" rx="3.19" fill="#cfcfcf"/>
<rect x="163.95" y="509.35" width="20.10" height="8.50" rx="3.19" fill="#cfcfcf"/>
<rect x="103.00" y="512.65" width="18.60" height="4.50" rx="1.69" fill="#060606"/>
<rect x="123.70" y="512.65" width="18.60" height="4.50" rx="1.69" fill="#060606"/>
<rect x="144.30" y="512.65" width="18.60" height="4.50" rx="1.69" fill="#060606"/>
<rect x="164.70" y="512.65" width="18.60" height="4.50" rx="1.69" fill="#060606"/>
</g></g>
<rect x="101.5" y="507.5" width="84" height="16" fill="none" stroke="#808080" stroke-width="1"/>
<rect x="102.5" y="508.5" width="82" height="14" fill="none" stroke="#dadada" stroke-width="1"/>
<clipPath id="c1880_3340"><rect x="188" y="334" width="86" height="16"/></clipPath>
<rect x="188" y="334" width="86" height="16" fill="#a6a6a6"/>
<g clip-path="url(#c1880_3340)">
<rect x="188" y="334" width="86" height="16" fill="#a6a6a6" filter="url(#nz2)"/>
<rect x="234.5" y="333.5" width="39.0" height="16.80000000000001" fill="#ffffff" opacity="0.3"/>
<g filter="url(#bl)" opacity="0.85">
<rect x="231.05" y="334.00" width="12.10" height="9.00" rx="3.38" fill="#dbdbdb"/>
<rect x="189.75" y="338.45" width="16.10" height="9.50" rx="3.56" fill="#d3d3d3"/>
<rect x="210.45" y="336.85" width="17.10" height="9.50" rx="3.56" fill="#d0d0d0"/>
<rect x="190.00" y="338.75" width="18.60" height="6.50" rx="2.44" fill="#a9a9a9"/>
<rect x="210.70" y="338.25" width="18.60" height="6.50" rx="2.44" fill="#a9a9a9"/>
<rect x="231.80" y="337.30" width="10.60" height="5.00" rx="1.88" fill="#444444"/>
<rect x="190.50" y="341.75" width="14.60" height="5.50" rx="2.06" fill="#171717"/>
<rect x="211.20" y="340.15" width="15.60" height="5.50" rx="2.06" fill="#0d0d0d"/>
</g></g>
<rect x="188.5" y="334.5" width="85" height="15" fill="none" stroke="#808080" stroke-width="1"/>
<rect x="189.5" y="335.5" width="83" height="13" fill="none" stroke="#dadada" stroke-width="1"/>
<clipPath id="c1880_3520"><rect x="188" y="352" width="86" height="16"/></clipPath>
<rect x="188" y="352" width="86" height="16" fill="#f7f7f7"/>
<g clip-path="url(#c1880_3520)">
<g filter="url(#bl)" opacity="1.0">
<rect x="189.25" y="357.45" width="20.10" height="8.30" rx="3.11" fill="#cfcfcf"/>
<rect x="209.95" y="356.05" width="20.10" height="8.30" rx="3.11" fill="#cfcfcf"/>
<rect x="230.55" y="353.95" width="20.10" height="8.30" rx="3.11" fill="#cfcfcf"/>
<rect x="250.95" y="352.75" width="20.10" height="8.30" rx="3.11" fill="#cfcfcf"/>
<rect x="190.00" y="360.75" width="18.60" height="4.30" rx="1.61" fill="#060606"/>
<rect x="210.70" y="359.35" width="18.60" height="4.30" rx="1.61" fill="#060606"/>
<rect x="231.30" y="357.25" width="18.60" height="4.30" rx="1.61" fill="#060606"/>
<rect x="251.70" y="356.05" width="18.60" height="4.30" rx="1.61" fill="#060606"/>
</g></g>
<rect x="188.5" y="352.5" width="85" height="15" fill="none" stroke="#808080" stroke-width="1"/>
<rect x="189.5" y="353.5" width="83" height="13" fill="none" stroke="#dadada" stroke-width="1"/>
<clipPath id="c1880_3700"><rect x="188" y="370" width="86" height="19"/></clipPath>
<rect x="188" y="370" width="86" height="19" fill="#d6d6d6"/>
<g clip-path="url(#c1880_3700)">
<rect x="191.8" y="370.4" width="16" height="18.80000000000001" fill="#000" opacity="0.035"/><rect x="212.5" y="370.4" width="16" height="18.80000000000001" fill="#000" opacity="0.035"/><rect x="233.1" y="370.4" width="16" height="18.80000000000001" fill="#000" opacity="0.035"/><rect x="253.5" y="370.4" width="16" height="18.80000000000001" fill="#000" opacity="0.035"/>
<g filter="url(#bl)" opacity="1.0">
</g></g>
<rect x="188.5" y="370.5" width="85" height="18" fill="none" stroke="#808080" stroke-width="1"/>
<rect x="189.5" y="371.5" width="83" height="16" fill="none" stroke="#dadada" stroke-width="1"/>
<clipPath id="c1880_3910"><rect x="188" y="391" width="86" height="22"/></clipPath>
<rect x="188" y="391" width="86" height="22" fill="#e0e0e0"/>
<g clip-path="url(#c1880_3910)">
<g filter="url(#bl)" opacity="1.0">
<rect x="189.25" y="399.75" width="20.10" height="8.50" rx="3.19" fill="#e2e2e2"/>
<rect x="209.95" y="399.75" width="20.10" height="8.50" rx="3.19" fill="#e2e2e2"/>
<rect x="230.55" y="399.35" width="20.10" height="8.50" rx="3.19" fill="#e1e1e1"/>
<rect x="250.95" y="398.75" width="20.10" height="8.50" rx="3.19" fill="#dadada"/>
<rect x="190.00" y="396.05" width="18.60" height="3.90" rx="1.46" fill="#a9a9a9"/>
<rect x="210.70" y="396.05" width="18.60" height="3.90" rx="1.46" fill="#a9a9a9"/>
<rect x="231.30" y="396.05" width="18.60" height="3.90" rx="1.46" fill="#a9a9a9"/>
<rect x="251.70" y="396.05" width="18.60" height="3.90" rx="1.46" fill="#a9a9a9"/>
<rect x="190.00" y="403.05" width="18.60" height="4.50" rx="1.69" fill="#686868"/>
<rect x="210.70" y="403.05" width="18.60" height="4.50" rx="1.69" fill="#686868"/>
<rect x="231.30" y="402.65" width="18.60" height="4.50" rx="1.69" fill="#616161"/>
<rect x="251.70" y="402.05" width="18.60" height="4.50" rx="1.69" fill="#3f3f3f"/>
</g></g>
<rect x="188.5" y="391.5" width="85" height="21" fill="none" stroke="#808080" stroke-width="1"/>
<rect x="189.5" y="392.5" width="83" height="19" fill="none" stroke="#dadada" stroke-width="1"/>
<clipPath id="c1880_4150"><rect x="188" y="415" width="86" height="15"/></clipPath>
<rect x="188" y="415" width="86" height="15" fill="#f7f7f7"/>
<g clip-path="url(#c1880_4150)">
<g filter="url(#bl)" opacity="1.0">
<rect x="231.05" y="419.25" width="19.10" height="8.90" rx="3.34" fill="#d5d5d5"/>
<rect x="251.45" y="418.55" width="19.10" height="8.90" rx="3.34" fill="#d3d3d3"/>
<rect x="188.75" y="420.15" width="21.10" height="10.10" rx="3.79" fill="#cecece"/>
<rect x="209.45" y="420.15" width="21.10" height="10.10" rx="3.79" fill="#cecece"/>
<rect x="190.00" y="418.00" width="18.60" height="4.00" rx="1.50" fill="#b6b6b6"/>
<rect x="210.70" y="418.00" width="18.60" height="4.00" rx="1.50" fill="#b6b6b6"/>
<rect x="231.30" y="418.00" width="18.60" height="4.00" rx="1.50" fill="#b6b6b6"/>
<rect x="251.70" y="418.00" width="18.60" height="4.00" rx="1.50" fill="#b6b6b6"/>
<rect x="231.80" y="422.55" width="17.60" height="4.90" rx="1.84" fill="#212121"/>
<rect x="252.20" y="421.85" width="17.60" height="4.90" rx="1.84" fill="#1b1b1b"/>
<rect x="189.50" y="423.45" width="19.60" height="6.10" rx="2.29" fill="#040404"/>
<rect x="210.20" y="423.45" width="19.60" height="6.10" rx="2.29" fill="#040404"/>
</g></g>
<rect x="188.5" y="415.5" width="85" height="14" fill="none" stroke="#808080" stroke-width="1"/>
<rect x="189.5" y="416.5" width="83" height="12" fill="none" stroke="#dadada" stroke-width="1"/>
<clipPath id="c1880_4330"><rect x="188" y="433" width="86" height="15"/></clipPath>
<rect x="188" y="433" width="86" height="15" fill="#f7f7f7"/>
<g clip-path="url(#c1880_4330)">
<g filter="url(#bl)" opacity="1.0">
<rect x="209.95" y="438.65" width="20.10" height="8.90" rx="3.34" fill="#dadada"/>
<rect x="230.55" y="437.85" width="20.10" height="8.90" rx="3.34" fill="#d9d9d9"/>
<rect x="189.25" y="439.45" width="20.10" height="8.90" rx="3.34" fill="#d8d8d8"/>
<rect x="250.95" y="436.75" width="20.10" height="8.90" rx="3.34" fill="#d3d3d3"/>
<rect x="190.00" y="437.00" width="18.60" height="4.00" rx="1.50" fill="#c4c4c4"/>
<rect x="210.70" y="437.00" width="18.60" height="4.00" rx="1.50" fill="#c4c4c4"/>
<rect x="231.30" y="437.00" width="18.60" height="4.00" rx="1.50" fill="#c4c4c4"/>
<rect x="251.70" y="437.00" width="18.60" height="4.00" rx="1.50" fill="#c4c4c4"/>
<rect x="210.70" y="441.95" width="18.60" height="4.90" rx="1.84" fill="#3f3f3f"/>
<rect x="231.30" y="441.15" width="18.60" height="4.90" rx="1.84" fill="#383838"/>
<rect x="190.00" y="442.75" width="18.60" height="4.90" rx="1.84" fill="#313131"/>
<rect x="251.70" y="440.05" width="18.60" height="4.90" rx="1.84" fill="#171717"/>
</g></g>
<rect x="188.5" y="433.5" width="85" height="14" fill="none" stroke="#808080" stroke-width="1"/>
<rect x="189.5" y="434.5" width="83" height="12" fill="none" stroke="#dadada" stroke-width="1"/>
<clipPath id="c1880_4500"><rect x="188" y="450" width="86" height="17"/></clipPath>
<rect x="188" y="450" width="86" height="17" fill="#f7f7f7"/>
<g clip-path="url(#c1880_4500)">
<g filter="url(#bl)" opacity="1.0">
<rect x="188.25" y="451.90" width="22.10" height="11.00" rx="4.12" fill="#cecece"/>
<rect x="208.95" y="451.90" width="22.10" height="11.00" rx="4.12" fill="#cecece"/>
<rect x="252.20" y="456.45" width="17.60" height="4.50" rx="1.69" fill="#a9a9a9"/>
<rect x="231.80" y="456.45" width="17.60" height="4.50" rx="1.69" fill="#9c9c9c"/>
<rect x="189.00" y="455.20" width="20.60" height="7.00" rx="2.62" fill="#040404"/>
<rect x="209.70" y="455.20" width="20.60" height="7.00" rx="2.62" fill="#040404"/>
</g></g>
<rect x="188.5" y="450.5" width="85" height="16" fill="none" stroke="#808080" stroke-width="1"/>
<rect x="189.5" y="451.5" width="83" height="14" fill="none" stroke="#dadada" stroke-width="1"/>
<clipPath id="c1880_4700"><rect x="188" y="470" width="86" height="16"/></clipPath>
<rect x="188" y="470" width="86" height="16" fill="#f7f7f7"/>
<g clip-path="url(#c1880_4700)">
<g filter="url(#bl)" opacity="1.0">
<rect x="188.25" y="472.45" width="22.10" height="9.70" rx="3.64" fill="#cfcfcf"/>
<rect x="209.45" y="472.45" width="21.10" height="9.70" rx="3.64" fill="#cfcfcf"/>
<rect x="252.20" y="476.35" width="17.60" height="4.50" rx="1.69" fill="#8a8a8a"/>
<rect x="231.80" y="476.35" width="17.60" height="4.50" rx="1.69" fill="#828282"/>
<rect x="189.00" y="475.75" width="20.60" height="5.70" rx="2.14" fill="#060606"/>
<rect x="210.20" y="475.75" width="19.60" height="5.70" rx="2.14" fill="#060606"/>
</g></g>
<rect x="188.5" y="470.5" width="85" height="15" fill="none" stroke="#808080" stroke-width="1"/>
<rect x="189.5" y="471.5" width="83" height="13" fill="none" stroke="#dadada" stroke-width="1"/>
<clipPath id="c1880_4880"><rect x="188" y="488" width="86" height="17"/></clipPath>
<rect x="188" y="488" width="86" height="17" fill="#f7f7f7"/>
<g clip-path="url(#c1880_4880)">
<g filter="url(#bl)" opacity="1.0">
<rect x="189.25" y="491.15" width="20.10" height="8.70" rx="3.26" fill="#dfdfdf"/>
<rect x="209.95" y="490.35" width="20.10" height="8.70" rx="3.26" fill="#dfdfdf"/>
<rect x="230.55" y="489.45" width="20.10" height="8.70" rx="3.26" fill="#dfdfdf"/>
<rect x="250.95" y="488.35" width="20.10" height="8.70" rx="3.26" fill="#dfdfdf"/>
<rect x="190.00" y="494.45" width="18.60" height="4.70" rx="1.76" fill="#575757"/>
<rect x="210.70" y="493.65" width="18.60" height="4.70" rx="1.76" fill="#575757"/>
<rect x="231.30" y="492.75" width="18.60" height="4.70" rx="1.76" fill="#575757"/>
<rect x="251.70" y="491.65" width="18.60" height="4.70" rx="1.76" fill="#575757"/>
</g></g>
<rect x="188.5" y="488.5" width="85" height="16" fill="none" stroke="#808080" stroke-width="1"/>
<rect x="189.5" y="489.5" width="83" height="14" fill="none" stroke="#dadada" stroke-width="1"/>
<clipPath id="c1880_5070"><rect x="188" y="507" width="86" height="17"/></clipPath>
<rect x="188" y="507" width="86" height="17" fill="#f7f7f7"/>
<g clip-path="url(#c1880_5070)">
<g filter="url(#bl)" opacity="1.0">
<rect x="189.25" y="512.15" width="20.10" height="8.10" rx="3.04" fill="#cfcfcf"/>
<rect x="209.95" y="510.35" width="20.10" height="8.10" rx="3.04" fill="#cfcfcf"/>
<rect x="230.55" y="508.45" width="20.10" height="8.10" rx="3.04" fill="#cfcfcf"/>
<rect x="250.95" y="506.65" width="20.10" height="8.10" rx="3.04" fill="#cfcfcf"/>
<rect x="190.00" y="515.45" width="18.60" height="4.10" rx="1.54" fill="#060606"/>
<rect x="210.70" y="513.65" width="18.60" height="4.10" rx="1.54" fill="#060606"/>
<rect x="231.30" y="511.75" width="18.60" height="4.10" rx="1.54" fill="#060606"/>
<rect x="251.70" y="509.95" width="18.60" height="4.10" rx="1.54" fill="#060606"/>
</g></g>
<rect x="188.5" y="507.5" width="85" height="16" fill="none" stroke="#808080" stroke-width="1"/>
<rect x="189.5" y="508.5" width="83" height="14" fill="none" stroke="#dadada" stroke-width="1"/>
<clipPath id="c2760_3340"><rect x="276" y="334" width="85" height="16"/></clipPath>
<rect x="276" y="334" width="85" height="16" fill="#f7f7f7"/>
<g clip-path="url(#c2760_3340)">
<g filter="url(#bl)" opacity="1.0">
<rect x="339.70" y="339.25" width="18.60" height="5.10" rx="1.91" fill="#d1d1d1"/>
<rect x="277.25" y="335.95" width="20.10" height="9.10" rx="3.41" fill="#cfcfcf"/>
<rect x="297.95" y="335.95" width="20.10" height="9.10" rx="3.41" fill="#cfcfcf"/>
<rect x="319.30" y="339.25" width="18.60" height="5.10" rx="1.91" fill="#c4c4c4"/>
<rect x="278.00" y="339.25" width="18.60" height="5.10" rx="1.91" fill="#060606"/>
<rect x="298.70" y="339.25" width="18.60" height="5.10" rx="1.91" fill="#060606"/>
</g></g>
<rect x="276.5" y="334.5" width="84" height="15" fill="none" stroke="#808080" stroke-width="1"/>
<rect x="277.5" y="335.5" width="82" height="13" fill="none" stroke="#dadada" stroke-width="1"/>
<clipPath id="c2760_3520"><rect x="276" y="352" width="85" height="16"/></clipPath>
<rect x="276" y="352" width="85" height="16" fill="#f7f7f7"/>
<g clip-path="url(#c2760_3520)">
<g filter="url(#bl)" opacity="1.0">
<rect x="277.25" y="355.15" width="20.10" height="9.30" rx="3.49" fill="#cfcfcf"/>
<rect x="297.95" y="355.15" width="20.10" height="9.30" rx="3.49" fill="#cfcfcf"/>
<rect x="318.55" y="355.15" width="20.10" height="9.30" rx="3.49" fill="#cfcfcf"/>
<rect x="338.95" y="355.15" width="20.10" height="9.30" rx="3.49" fill="#cfcfcf"/>
<rect x="278.00" y="358.45" width="18.60" height="5.30" rx="1.99" fill="#060606"/>
<rect x="298.70" y="358.45" width="18.60" height="5.30" rx="1.99" fill="#060606"/>
<rect x="319.30" y="358.45" width="18.60" height="5.30" rx="1.99" fill="#060606"/>
<rect x="339.70" y="358.45" width="18.60" height="5.30" rx="1.99" fill="#060606"/>
</g></g>
<rect x="276.5" y="352.5" width="84" height="15" fill="none" stroke="#808080" stroke-width="1"/>
<rect x="277.5" y="353.5" width="82" height="13" fill="none" stroke="#dadada" stroke-width="1"/>
<clipPath id="c2760_3700"><rect x="276" y="370" width="85" height="19"/></clipPath>
<rect x="276" y="370" width="85" height="19" fill="#f7f7f7"/>
<g clip-path="url(#c2760_3700)">
<g filter="url(#bl)" opacity="1.0">
<rect x="298.70" y="375.75" width="18.60" height="4.50" rx="1.69" fill="#dfdfdf"/>
<rect x="318.55" y="371.15" width="20.10" height="8.50" rx="3.19" fill="#d8d8d8"/>
<rect x="277.80" y="369.45" width="22.40" height="12.50" rx="4.69" fill="#cecece"/>
<rect x="278.10" y="376.75" width="21.40" height="11.10" rx="4.16" fill="#cecece"/>
<rect x="278.25" y="372.95" width="18.10" height="11.50" rx="4.31" fill="#cecece"/>
<rect x="319.30" y="381.45" width="18.60" height="4.30" rx="1.61" fill="#828282"/>
<rect x="319.30" y="374.45" width="18.60" height="4.50" rx="1.69" fill="#313131"/>
<rect x="278.55" y="372.75" width="20.90" height="8.50" rx="3.19" fill="#040404"/>
<rect x="278.85" y="380.05" width="19.90" height="7.10" rx="2.66" fill="#040404"/>
<rect x="279.00" y="376.25" width="16.60" height="7.50" rx="2.81" fill="#040404"/>
</g></g>
<rect x="276.5" y="370.5" width="84" height="18" fill="none" stroke="#808080" stroke-width="1"/>
<rect x="277.5" y="371.5" width="82" height="16" fill="none" stroke="#dadada" stroke-width="1"/>
<clipPath id="c2760_3910"><rect x="276" y="391" width="85" height="22"/></clipPath>
<rect x="276" y="391" width="85" height="22" fill="#f7f7f7"/>
<g clip-path="url(#c2760_3910)">
<g filter="url(#bl)" opacity="1.0">
<rect x="277.25" y="390.25" width="20.10" height="9.10" rx="3.41" fill="#cfcfcf"/>
<rect x="297.95" y="390.25" width="20.10" height="9.10" rx="3.41" fill="#cfcfcf"/>
<rect x="318.55" y="390.75" width="20.10" height="9.10" rx="3.41" fill="#cfcfcf"/>
<rect x="338.95" y="391.75" width="20.10" height="9.10" rx="3.41" fill="#cfcfcf"/>
<rect x="277.25" y="397.95" width="20.10" height="9.50" rx="3.56" fill="#cfcfcf"/>
<rect x="297.95" y="397.95" width="20.10" height="9.50" rx="3.56" fill="#cfcfcf"/>
<rect x="318.55" y="398.45" width="20.10" height="9.50" rx="3.56" fill="#cfcfcf"/>
<rect x="338.95" y="399.15" width="20.10" height="9.50" rx="3.56" fill="#cfcfcf"/>
<rect x="278.00" y="393.55" width="18.60" height="5.10" rx="1.91" fill="#060606"/>
<rect x="298.70" y="393.55" width="18.60" height="5.10" rx="1.91" fill="#060606"/>
<rect x="319.30" y="394.05" width="18.60" height="5.10" rx="1.91" fill="#060606"/>
<rect x="339.70" y="395.05" width="18.60" height="5.10" rx="1.91" fill="#060606"/>
<rect x="278.00" y="401.25" width="18.60" height="5.50" rx="2.06" fill="#060606"/>
<rect x="298.70" y="401.25" width="18.60" height="5.50" rx="2.06" fill="#060606"/>
<rect x="319.30" y="401.75" width="18.60" height="5.50" rx="2.06" fill="#060606"/>
<rect x="339.70" y="402.45" width="18.60" height="5.50" rx="2.06" fill="#060606"/>
</g></g>
<rect x="276.5" y="391.5" width="84" height="21" fill="none" stroke="#808080" stroke-width="1"/>
<rect x="277.5" y="392.5" width="82" height="19" fill="none" stroke="#dadada" stroke-width="1"/>
<clipPath id="c2760_4150"><rect x="276" y="415" width="85" height="15"/></clipPath>
<rect x="276" y="415" width="85" height="15" fill="#f0f0f0"/>
<g clip-path="url(#c2760_4150)">
<g filter="url(#bl)" opacity="1.0">
<rect x="276.50" y="415.75" width="21.60" height="6.50" rx="2.44" fill="#d9d9d9"/>
<rect x="297.20" y="415.75" width="21.60" height="6.50" rx="2.44" fill="#d9d9d9"/>
<rect x="317.80" y="415.75" width="21.60" height="6.50" rx="2.44" fill="#d9d9d9"/>
<rect x="338.20" y="415.75" width="21.60" height="6.50" rx="2.44" fill="#d9d9d9"/>
<rect x="277.25" y="420.85" width="20.10" height="9.10" rx="3.41" fill="#cfcfcf"/>
<rect x="297.95" y="420.85" width="20.10" height="9.10" rx="3.41" fill="#cfcfcf"/>
<rect x="319.30" y="424.15" width="18.60" height="5.10" rx="1.91" fill="#b6b6b6"/>
<rect x="339.70" y="424.15" width="18.60" height="5.10" rx="1.91" fill="#a9a9a9"/>
<rect x="278.00" y="424.15" width="18.60" height="5.10" rx="1.91" fill="#060606"/>
<rect x="298.70" y="424.15" width="18.60" height="5.10" rx="1.91" fill="#060606"/>
</g></g>
<rect x="276.5" y="415.5" width="84" height="14" fill="none" stroke="#808080" stroke-width="1"/>
<rect x="277.5" y="416.5" width="82" height="12" fill="none" stroke="#dadada" stroke-width="1"/>
<clipPath id="c2760_4330"><rect x="276" y="433" width="85" height="15"/></clipPath>
<rect x="276" y="433" width="85" height="15" fill="#f7f7f7"/>
<g clip-path="url(#c2760_4330)">
<g filter="url(#bl)" opacity="1.0">
<rect x="277.25" y="439.85" width="20.10" height="9.10" rx="3.41" fill="#cfcfcf"/>
<rect x="297.95" y="439.85" width="20.10" height="9.10" rx="3.41" fill="#cfcfcf"/>
<rect x="318.55" y="439.85" width="20.10" height="9.10" rx="3.41" fill="#cfcfcf"/>
<rect x="338.95" y="439.85" width="20.10" height="9.10" rx="3.41" fill="#cfcfcf"/>
<rect x="278.00" y="437.55" width="18.60" height="4.30" rx="1.61" fill="#828282"/>
<rect x="298.70" y="437.55" width="18.60" height="4.30" rx="1.61" fill="#828282"/>
<rect x="319.30" y="437.55" width="18.60" height="4.30" rx="1.61" fill="#828282"/>
<rect x="339.70" y="437.55" width="18.60" height="4.30" rx="1.61" fill="#828282"/>
<rect x="278.00" y="443.15" width="18.60" height="5.10" rx="1.91" fill="#060606"/>
<rect x="298.70" y="443.15" width="18.60" height="5.10" rx="1.91" fill="#060606"/>
<rect x="319.30" y="443.15" width="18.60" height="5.10" rx="1.91" fill="#060606"/>
<rect x="339.70" y="443.15" width="18.60" height="5.10" rx="1.91" fill="#060606"/>
</g></g>
<rect x="276.5" y="433.5" width="84" height="14" fill="none" stroke="#808080" stroke-width="1"/>
<rect x="277.5" y="434.5" width="82" height="12" fill="none" stroke="#dadada" stroke-width="1"/>
<clipPath id="c2760_4500"><rect x="276" y="450" width="85" height="17"/></clipPath>
<rect x="276" y="450" width="85" height="17" fill="#f7f7f7"/>
<g clip-path="url(#c2760_4500)">
<g filter="url(#bl)" opacity="1.0">
<rect x="319.05" y="454.05" width="19.10" height="8.50" rx="3.19" fill="#e2e2e2"/>
<rect x="338.95" y="453.85" width="20.10" height="8.90" rx="3.34" fill="#dfdfdf"/>
<rect x="276.75" y="453.05" width="21.10" height="10.50" rx="3.94" fill="#cfcfcf"/>
<rect x="297.95" y="453.25" width="20.10" height="10.10" rx="3.79" fill="#cfcfcf"/>
<rect x="319.80" y="457.35" width="17.60" height="4.50" rx="1.69" fill="#686868"/>
<rect x="339.70" y="457.15" width="18.60" height="4.90" rx="1.84" fill="#575757"/>
<rect x="277.50" y="456.35" width="19.60" height="6.50" rx="2.44" fill="#060606"/>
<rect x="298.70" y="456.55" width="18.60" height="6.10" rx="2.29" fill="#060606"/>
</g></g>
<rect x="276.5" y="450.5" width="84" height="16" fill="none" stroke="#808080" stroke-width="1"/>
<rect x="277.5" y="451.5" width="82" height="14" fill="none" stroke="#dadada" stroke-width="1"/>
<clipPath id="c2760_4700"><rect x="276" y="470" width="85" height="16"/></clipPath>
<rect x="276" y="470" width="85" height="16" fill="#f7f7f7"/>
<g clip-path="url(#c2760_4700)">
<g filter="url(#bl)" opacity="1.0">
<rect x="298.45" y="472.15" width="19.10" height="8.50" rx="3.19" fill="#d4d4d4"/>
<rect x="339.45" y="472.15" width="19.10" height="8.50" rx="3.19" fill="#d4d4d4"/>
<rect x="318.55" y="472.05" width="20.10" height="8.70" rx="3.26" fill="#d3d3d3"/>
<rect x="275.25" y="471.15" width="24.10" height="10.50" rx="3.94" fill="#cecece"/>
<rect x="299.20" y="475.45" width="17.60" height="4.50" rx="1.69" fill="#1f1f1f"/>
<rect x="340.20" y="475.45" width="17.60" height="4.50" rx="1.69" fill="#1f1f1f"/>
<rect x="319.30" y="475.35" width="18.60" height="4.70" rx="1.76" fill="#1b1b1b"/>
<rect x="276.00" y="474.45" width="22.60" height="6.50" rx="2.44" fill="#040404"/>
</g></g>
<rect x="276.5" y="470.5" width="84" height="15" fill="none" stroke="#808080" stroke-width="1"/>
<rect x="277.5" y="471.5" width="82" height="13" fill="none" stroke="#dadada" stroke-width="1"/>
<clipPath id="c2760_4880"><rect x="276" y="488" width="85" height="17"/></clipPath>
<rect x="276" y="488" width="85" height="17" fill="#f7f7f7"/>
<g clip-path="url(#c2760_4880)">
<g filter="url(#bl)" opacity="1.0">
<rect x="277.25" y="490.75" width="20.10" height="9.50" rx="3.56" fill="#cfcfcf"/>
<rect x="297.95" y="490.75" width="20.10" height="9.50" rx="3.56" fill="#cfcfcf"/>
<rect x="318.55" y="490.75" width="20.10" height="9.50" rx="3.56" fill="#cfcfcf"/>
<rect x="338.95" y="490.75" width="20.10" height="9.50" rx="3.56" fill="#cfcfcf"/>
<rect x="278.00" y="494.05" width="18.60" height="5.50" rx="2.06" fill="#060606"/>
<rect x="298.70" y="494.05" width="18.60" height="5.50" rx="2.06" fill="#060606"/>
<rect x="319.30" y="494.05" width="18.60" height="5.50" rx="2.06" fill="#060606"/>
<rect x="339.70" y="494.05" width="18.60" height="5.50" rx="2.06" fill="#060606"/>
</g></g>
<rect x="276.5" y="488.5" width="84" height="16" fill="none" stroke="#808080" stroke-width="1"/>
<rect x="277.5" y="489.5" width="82" height="14" fill="none" stroke="#dadada" stroke-width="1"/>
<clipPath id="c2760_5070"><rect x="276" y="507" width="85" height="17"/></clipPath>
<rect x="276" y="507" width="85" height="17" fill="#f7f7f7"/>
<g clip-path="url(#c2760_5070)">
<g filter="url(#bl)" opacity="1.0">
<rect x="277.25" y="510.85" width="20.10" height="8.10" rx="3.04" fill="#cfcfcf"/>
<rect x="297.95" y="510.85" width="20.10" height="8.10" rx="3.04" fill="#cfcfcf"/>
<rect x="318.55" y="510.85" width="20.10" height="8.10" rx="3.04" fill="#cfcfcf"/>
<rect x="338.95" y="510.85" width="20.10" height="8.10" rx="3.04" fill="#cfcfcf"/>
<rect x="278.00" y="514.15" width="18.60" height="4.10" rx="1.54" fill="#060606"/>
<rect x="298.70" y="514.15" width="18.60" height="4.10" rx="1.54" fill="#060606"/>
<rect x="319.30" y="514.15" width="18.60" height="4.10" rx="1.54" fill="#060606"/>
<rect x="339.70" y="514.15" width="18.60" height="4.10" rx="1.54" fill="#060606"/>
</g></g>
<rect x="276.5" y="507.5" width="84" height="16" fill="none" stroke="#808080" stroke-width="1"/>
<rect x="277.5" y="508.5" width="82" height="14" fill="none" stroke="#dadada" stroke-width="1"/>
<clipPath id="c3630_3340"><rect x="363" y="334" width="85" height="16"/></clipPath>
<rect x="363" y="334" width="85" height="16" fill="#f7f7f7"/>
<g clip-path="url(#c3630_3340)">
<g filter="url(#bl)" opacity="1.0">
<rect x="428.20" y="340.75" width="15.60" height="3.50" rx="1.31" fill="#e4e4e4"/>
<rect x="407.05" y="337.05" width="17.10" height="8.30" rx="3.11" fill="#e2e2e2"/>
<rect x="363.75" y="336.75" width="21.10" height="8.90" rx="3.34" fill="#d3d3d3"/>
<rect x="384.95" y="336.75" width="20.10" height="8.90" rx="3.34" fill="#d3d3d3"/>
<rect x="407.80" y="340.35" width="15.60" height="4.30" rx="1.61" fill="#686868"/>
<rect x="364.50" y="340.05" width="19.60" height="4.90" rx="1.84" fill="#171717"/>
<rect x="385.70" y="340.05" width="18.60" height="4.90" rx="1.84" fill="#171717"/>
</g></g>
<rect x="363.5" y="334.5" width="84" height="15" fill="none" stroke="#808080" stroke-width="1"/>
<rect x="364.5" y="335.5" width="82" height="13" fill="none" stroke="#dadada" stroke-width="1"/>
<clipPath id="c3630_3520"><rect x="363" y="352" width="85" height="16"/></clipPath>
<rect x="363" y="352" width="85" height="16" fill="#f7f7f7"/>
<g clip-path="url(#c3630_3520)">
<g filter="url(#bl)" opacity="1.0">
<rect x="364.25" y="355.45" width="20.10" height="9.30" rx="3.49" fill="#cfcfcf"/>
<rect x="384.95" y="354.85" width="20.10" height="9.30" rx="3.49" fill="#cfcfcf"/>
<rect x="405.55" y="354.05" width="20.10" height="9.30" rx="3.49" fill="#cfcfcf"/>
<rect x="425.95" y="353.65" width="20.10" height="9.30" rx="3.49" fill="#cfcfcf"/>
<rect x="365.00" y="358.75" width="18.60" height="5.30" rx="1.99" fill="#060606"/>
<rect x="385.70" y="358.15" width="18.60" height="5.30" rx="1.99" fill="#060606"/>
<rect x="406.30" y="357.35" width="18.60" height="5.30" rx="1.99" fill="#060606"/>
<rect x="426.70" y="356.95" width="18.60" height="5.30" rx="1.99" fill="#060606"/>
</g></g>
<rect x="363.5" y="352.5" width="84" height="15" fill="none" stroke="#808080" stroke-width="1"/>
<rect x="364.5" y="353.5" width="82" height="13" fill="none" stroke="#dadada" stroke-width="1"/>
<clipPath id="c3630_3700"><rect x="363" y="370" width="85" height="19"/></clipPath>
<rect x="363" y="370" width="85" height="19" fill="#ececec"/>
<g clip-path="url(#c3630_3700)">
<rect x="363" y="370" width="85" height="19" fill="#ececec" filter="url(#nz1)"/>
<g filter="url(#bl)" opacity="1.0">
</g></g>
<rect x="363.5" y="370.5" width="84" height="18" fill="none" stroke="#808080" stroke-width="1"/>
<rect x="364.5" y="371.5" width="82" height="16" fill="none" stroke="#dadada" stroke-width="1"/>
<clipPath id="c3630_3910"><rect x="363" y="391" width="85" height="22"/></clipPath>
<rect x="363" y="391" width="85" height="22" fill="#f7f7f7"/>
<g clip-path="url(#c3630_3910)">
<g filter="url(#bl)" opacity="1.0">
<rect x="364.25" y="391.45" width="20.10" height="8.70" rx="3.26" fill="#cfcfcf"/>
<rect x="384.95" y="391.45" width="20.10" height="8.70" rx="3.26" fill="#cfcfcf"/>
<rect x="405.55" y="391.45" width="20.10" height="8.70" rx="3.26" fill="#cfcfcf"/>
<rect x="425.95" y="391.45" width="20.10" height="8.70" rx="3.26" fill="#cfcfcf"/>
<rect x="364.25" y="399.25" width="20.10" height="9.50" rx="3.56" fill="#cfcfcf"/>
<rect x="384.95" y="399.25" width="20.10" height="9.50" rx="3.56" fill="#cfcfcf"/>
<rect x="405.55" y="399.25" width="20.10" height="9.50" rx="3.56" fill="#cfcfcf"/>
<rect x="425.95" y="399.25" width="20.10" height="9.50" rx="3.56" fill="#cfcfcf"/>
<rect x="365.00" y="394.75" width="18.60" height="4.70" rx="1.76" fill="#060606"/>
<rect x="385.70" y="394.75" width="18.60" height="4.70" rx="1.76" fill="#060606"/>
<rect x="406.30" y="394.75" width="18.60" height="4.70" rx="1.76" fill="#060606"/>
<rect x="426.70" y="394.75" width="18.60" height="4.70" rx="1.76" fill="#060606"/>
<rect x="365.00" y="402.55" width="18.60" height="5.50" rx="2.06" fill="#060606"/>
<rect x="385.70" y="402.55" width="18.60" height="5.50" rx="2.06" fill="#060606"/>
<rect x="406.30" y="402.55" width="18.60" height="5.50" rx="2.06" fill="#060606"/>
<rect x="426.70" y="402.55" width="18.60" height="5.50" rx="2.06" fill="#060606"/>
</g></g>
<rect x="363.5" y="391.5" width="84" height="21" fill="none" stroke="#808080" stroke-width="1"/>
<rect x="364.5" y="392.5" width="82" height="19" fill="none" stroke="#dadada" stroke-width="1"/>
<clipPath id="c3630_4150"><rect x="363" y="415" width="85" height="15"/></clipPath>
<rect x="363" y="415" width="85" height="15" fill="#f7f7f7"/>
<g clip-path="url(#c3630_4150)">
<g filter="url(#bl)" opacity="1.0">
<rect x="405.55" y="419.95" width="20.10" height="8.90" rx="3.34" fill="#dddddd"/>
<rect x="425.95" y="418.95" width="20.10" height="8.90" rx="3.34" fill="#dbdbdb"/>
<rect x="364.25" y="420.45" width="20.10" height="8.90" rx="3.34" fill="#cfcfcf"/>
<rect x="384.95" y="420.45" width="20.10" height="8.90" rx="3.34" fill="#cfcfcf"/>
<rect x="365.00" y="418.50" width="18.60" height="4.00" rx="1.50" fill="#c4c4c4"/>
<rect x="385.70" y="418.50" width="18.60" height="4.00" rx="1.50" fill="#c4c4c4"/>
<rect x="406.30" y="418.50" width="18.60" height="4.00" rx="1.50" fill="#c4c4c4"/>
<rect x="426.70" y="418.50" width="18.60" height="4.00" rx="1.50" fill="#c4c4c4"/>
<rect x="406.30" y="423.25" width="18.60" height="4.90" rx="1.84" fill="#505050"/>
<rect x="426.70" y="422.25" width="18.60" height="4.90" rx="1.84" fill="#444444"/>
<rect x="365.00" y="423.75" width="18.60" height="4.90" rx="1.84" fill="#060606"/>
<rect x="385.70" y="423.75" width="18.60" height="4.90" rx="1.84" fill="#060606"/>
</g></g>
<rect x="363.5" y="415.5" width="84" height="14" fill="none" stroke="#808080" stroke-width="1"/>
<rect x="364.5" y="416.5" width="82" height="12" fill="none" stroke="#dadada" stroke-width="1"/>
<clipPath id="c3630_4330"><rect x="363" y="433" width="85" height="15"/></clipPath>
<rect x="363" y="433" width="85" height="15" fill="#f7f7f7"/>
<g clip-path="url(#c3630_4330)">
<g filter="url(#bl)" opacity="1.0">
<rect x="364.25" y="438.75" width="20.10" height="8.90" rx="3.34" fill="#d5d5d5"/>
<rect x="384.95" y="438.75" width="20.10" height="8.90" rx="3.34" fill="#d5d5d5"/>
<rect x="405.55" y="438.75" width="20.10" height="8.90" rx="3.34" fill="#d5d5d5"/>
<rect x="425.95" y="437.75" width="20.10" height="8.90" rx="3.34" fill="#cfcfcf"/>
<rect x="365.00" y="436.50" width="18.60" height="4.00" rx="1.50" fill="#b6b6b6"/>
<rect x="385.70" y="436.50" width="18.60" height="4.00" rx="1.50" fill="#b6b6b6"/>
<rect x="406.30" y="436.50" width="18.60" height="4.00" rx="1.50" fill="#b6b6b6"/>
<rect x="426.70" y="436.50" width="18.60" height="4.00" rx="1.50" fill="#b6b6b6"/>
<rect x="365.00" y="442.05" width="18.60" height="4.90" rx="1.84" fill="#212121"/>
<rect x="385.70" y="442.05" width="18.60" height="4.90" rx="1.84" fill="#212121"/>
<rect x="406.30" y="442.05" width="18.60" height="4.90" rx="1.84" fill="#212121"/>
<rect x="426.70" y="441.05" width="18.60" height="4.90" rx="1.84" fill="#060606"/>
</g></g>
<rect x="363.5" y="433.5" width="84" height="14" fill="none" stroke="#808080" stroke-width="1"/>
<rect x="364.5" y="434.5" width="82" height="12" fill="none" stroke="#dadada" stroke-width="1"/>
<clipPath id="c3630_4500"><rect x="363" y="450" width="85" height="17"/></clipPath>
<rect x="363" y="450" width="85" height="17" fill="#f7f7f7"/>
<g clip-path="url(#c3630_4500)">
<g filter="url(#bl)" opacity="1.0">
<rect x="425.95" y="453.35" width="20.10" height="8.70" rx="3.26" fill="#e2e2e2"/>
<rect x="405.55" y="453.15" width="20.10" height="9.10" rx="3.41" fill="#dadada"/>
<rect x="363.25" y="452.65" width="22.10" height="10.10" rx="3.79" fill="#cfcfcf"/>
<rect x="383.95" y="452.65" width="22.10" height="10.10" rx="3.79" fill="#cfcfcf"/>
<rect x="426.70" y="456.65" width="18.60" height="4.70" rx="1.76" fill="#686868"/>
<rect x="406.30" y="456.45" width="18.60" height="5.10" rx="1.91" fill="#3f3f3f"/>
<rect x="364.00" y="455.95" width="20.60" height="6.10" rx="2.29" fill="#060606"/>
<rect x="384.70" y="455.95" width="20.60" height="6.10" rx="2.29" fill="#060606"/>
</g></g>
<rect x="363.5" y="450.5" width="84" height="16" fill="none" stroke="#808080" stroke-width="1"/>
<rect x="364.5" y="451.5" width="82" height="14" fill="none" stroke="#dadada" stroke-width="1"/>
<clipPath id="c3630_4700"><rect x="363" y="470" width="85" height="16"/></clipPath>
<rect x="363" y="470" width="85" height="16" fill="#f7f7f7"/>
<g clip-path="url(#c3630_4700)">
<g filter="url(#bl)" opacity="1.0">
<rect x="426.45" y="472.55" width="19.10" height="8.50" rx="3.19" fill="#d3d3d3"/>
<rect x="363.25" y="471.85" width="22.10" height="9.90" rx="3.71" fill="#cfcfcf"/>
<rect x="384.45" y="471.95" width="21.10" height="9.70" rx="3.64" fill="#cfcfcf"/>
<rect x="405.05" y="472.05" width="21.10" height="9.50" rx="3.56" fill="#cfcfcf"/>
<rect x="427.20" y="475.85" width="17.60" height="4.50" rx="1.69" fill="#1b1b1b"/>
<rect x="364.00" y="475.15" width="20.60" height="5.90" rx="2.21" fill="#060606"/>
<rect x="385.20" y="475.25" width="19.60" height="5.70" rx="2.14" fill="#060606"/>
<rect x="405.80" y="475.35" width="19.60" height="5.50" rx="2.06" fill="#060606"/>
</g></g>
<rect x="363.5" y="470.5" width="84" height="15" fill="none" stroke="#808080" stroke-width="1"/>
<rect x="364.5" y="471.5" width="82" height="13" fill="none" stroke="#dadada" stroke-width="1"/>
<clipPath id="c3630_4880"><rect x="363" y="488" width="85" height="17"/></clipPath>
<rect x="363" y="488" width="85" height="17" fill="#f7f7f7"/>
<g clip-path="url(#c3630_4880)">
<g filter="url(#bl)" opacity="1.0">
<rect x="364.25" y="490.95" width="20.10" height="9.10" rx="3.41" fill="#dbdbdb"/>
<rect x="384.95" y="490.95" width="20.10" height="9.10" rx="3.41" fill="#dbdbdb"/>
<rect x="405.55" y="490.95" width="20.10" height="9.10" rx="3.41" fill="#d6d6d6"/>
<rect x="425.95" y="490.45" width="20.10" height="9.10" rx="3.41" fill="#d5d5d5"/>
<rect x="365.00" y="494.25" width="18.60" height="5.10" rx="1.91" fill="#444444"/>
<rect x="385.70" y="494.25" width="18.60" height="5.10" rx="1.91" fill="#444444"/>
<rect x="406.30" y="494.25" width="18.60" height="5.10" rx="1.91" fill="#282828"/>
<rect x="426.70" y="493.75" width="18.60" height="5.10" rx="1.91" fill="#212121"/>
</g></g>
<rect x="363.5" y="488.5" width="84" height="16" fill="none" stroke="#808080" stroke-width="1"/>
<rect x="364.5" y="489.5" width="82" height="14" fill="none" stroke="#dadada" stroke-width="1"/>
<clipPath id="c3630_5070"><rect x="363" y="507" width="85" height="17"/></clipPath>
<rect x="363" y="507" width="85" height="17" fill="#f7f7f7"/>
<g clip-path="url(#c3630_5070)">
<g filter="url(#bl)" opacity="1.0">
<rect x="364.25" y="510.25" width="20.10" height="8.50" rx="3.19" fill="#cfcfcf"/>
<rect x="384.95" y="510.25" width="20.10" height="8.50" rx="3.19" fill="#cfcfcf"/>
<rect x="405.55" y="510.25" width="20.10" height="8.50" rx="3.19" fill="#cfcfcf"/>
<rect x="425.95" y="509.45" width="20.10" height="8.50" rx="3.19" fill="#cfcfcf"/>
<rect x="365.00" y="513.55" width="18.60" height="4.50" rx="1.69" fill="#060606"/>
<rect x="385.70" y="513.55" width="18.60" height="4.50" rx="1.69" fill="#060606"/>
<rect x="406.30" y="513.55" width="18.60" height="4.50" rx="1.69" fill="#060606"/>
<rect x="426.70" y="512.75" width="18.60" height="4.50" rx="1.69" fill="#060606"/>
</g></g>
<rect x="363.5" y="507.5" width="84" height="16" fill="none" stroke="#808080" stroke-width="1"/>
<rect x="364.5" y="508.5" width="82" height="14" fill="none" stroke="#dadada" stroke-width="1"/>
<text x="143.2" y="533.9" font-size="7.6" text-anchor="middle" font-weight="normal" font-style="normal" fill="#111"  stroke="#111" stroke-width="0.22"><tspan font-style="italic">JAK2</tspan> R683G VAF 0.42</text>
<text x="143.6" y="542.9" font-size="7.6" text-anchor="middle" font-weight="normal" font-style="normal" fill="#cf1a45"  stroke="#cf1a45" stroke-width="0.22">**<tspan font-style="italic">NRAS</tspan> G12S VAF 0.07</text>
<text x="230.8" y="533.9" font-size="7.6" text-anchor="middle" font-weight="normal" font-style="normal" fill="#111"  stroke="#111" stroke-width="0.22"><tspan font-style="italic">JAK2</tspan> R683T VAF 0.41</text>
<text x="230.8" y="542.9" font-size="7.6" text-anchor="middle" font-weight="normal" font-style="normal" fill="#cf1a45"  stroke="#cf1a45" stroke-width="0.22"><tspan font-style="italic">NRAS</tspan> G13R VAF 0.31</text>
<text x="318.2" y="533.9" font-size="7.6" text-anchor="middle" font-weight="normal" font-style="normal" fill="#111"  stroke="#111" stroke-width="0.22"><tspan font-style="italic">JAK2</tspan> R683G VAF 0.42</text>
<text x="405.5" y="533.9" font-size="7.6" text-anchor="middle" font-weight="normal" font-style="normal" fill="#cf1a45"  stroke="#cf1a45" stroke-width="0.22"><tspan font-style="italic">NRAS</tspan> Q61K VAF 0.40</text>
<text x="7.8" y="558.4" font-size="14" text-anchor="start" font-weight="bold" font-style="normal" fill="#111" stroke="#111" stroke-width="0.4">C</text>
<text x="114.8" y="565" font-size="11.2" text-anchor="middle" font-weight="normal" font-style="normal" fill="#111"  stroke="#111" stroke-width="0.22">MUTZ5</text>
<line x1="76.5" y1="571" x2="76.5" y2="671.2" stroke="#000" stroke-width="1.25"/>
<line x1="72.9" y1="670.6" x2="152.3" y2="670.6" stroke="#000" stroke-width="1.3"/>
<line x1="72.9" y1="584.4" x2="76.9" y2="584.4" stroke="#111" stroke-width="1.2"/>
<text x="70.10000000000001" y="587.9" font-size="9.9" text-anchor="end" font-weight="normal" font-style="normal" fill="#111"  stroke="#111" stroke-width="0.22">1.0</text>
<line x1="72.9" y1="627.5999999999999" x2="76.9" y2="627.5999999999999" stroke="#111" stroke-width="1.2"/>
<text x="70.10000000000001" y="631.0999999999999" font-size="9.9" text-anchor="end" font-weight="normal" font-style="normal" fill="#111"  stroke="#111" stroke-width="0.22">0.5</text>
<line x1="72.9" y1="670.8" x2="76.9" y2="670.8" stroke="#111" stroke-width="1.2"/>
<text x="70.10000000000001" y="674.3" font-size="9.9" text-anchor="end" font-weight="normal" font-style="normal" fill="#111"  stroke="#111" stroke-width="0.22">0.0</text>
<line x1="76.9" y1="670.8" x2="76.9" y2="674.3" stroke="#111" stroke-width="1.2"/>
<text x="76.9" y="686.2" font-size="9.9" text-anchor="middle" font-weight="normal" font-style="normal" fill="#111"  stroke="#111" stroke-width="0.22">0</text>
<line x1="109.30000000000001" y1="670.8" x2="109.30000000000001" y2="674.3" stroke="#111" stroke-width="1.2"/>
<text x="109.30000000000001" y="686.2" font-size="9.9" text-anchor="middle" font-weight="normal" font-style="normal" fill="#111"  stroke="#111" stroke-width="0.22">3</text>
<line x1="141.70000000000002" y1="670.8" x2="141.70000000000002" y2="674.3" stroke="#111" stroke-width="1.2"/>
<text x="141.70000000000002" y="686.2" font-size="9.9" text-anchor="middle" font-weight="normal" font-style="normal" fill="#111"  stroke="#111" stroke-width="0.22">6</text>
<polyline points="76.90,584.40 109.30,637.97 141.70,657.84" fill="none" stroke="#c8102e" stroke-width="1.35"/>
<circle cx="76.90" cy="584.40" r="1.9" fill="#c8102e"/>
<circle cx="109.30" cy="637.97" r="1.9" fill="#c8102e"/>
<circle cx="141.70" cy="657.84" r="1.9" fill="#c8102e"/>
<polyline points="76.90,584.40 109.30,624.14 141.70,644.88" fill="none" stroke="#1a4f8c" stroke-width="1.35"/>
<circle cx="76.90" cy="584.40" r="1.9" fill="#1a4f8c"/>
<circle cx="109.30" cy="624.14" r="1.9" fill="#1a4f8c"/>
<circle cx="141.70" cy="644.88" r="1.9" fill="#1a4f8c"/>
<polyline points="76.90,584.40 109.30,612.05 141.70,630.19" fill="none" stroke="#3db54b" stroke-width="1.35"/>
<circle cx="76.90" cy="584.40" r="1.9" fill="#3db54b"/>
<circle cx="109.30" cy="612.05" r="1.9" fill="#3db54b"/>
<circle cx="141.70" cy="630.19" r="1.9" fill="#3db54b"/>
<text x="219.2" y="565" font-size="11.2" text-anchor="middle" font-weight="normal" font-style="normal" fill="#111"  stroke="#111" stroke-width="0.22">MHH-CALL4</text>
<line x1="181.5" y1="571" x2="181.5" y2="671.2" stroke="#000" stroke-width="1.25"/>
<line x1="177.2" y1="670.6" x2="256.5" y2="670.6" stroke="#000" stroke-width="1.3"/>
<line x1="177.2" y1="584.4" x2="181.2" y2="584.4" stroke="#111" stroke-width="1.2"/>
<text x="174.39999999999998" y="587.9" font-size="9.9" text-anchor="end" font-weight="normal" font-style="normal" fill="#111"  stroke="#111" stroke-width="0.22">1.0</text>
<line x1="177.2" y1="627.5999999999999" x2="181.2" y2="627.5999999999999" stroke="#111" stroke-width="1.2"/>
<text x="174.39999999999998" y="631.0999999999999" font-size="9.9" text-anchor="end" font-weight="normal" font-style="normal" fill="#111"  stroke="#111" stroke-width="0.22">0.5</text>
<line x1="177.2" y1="670.8" x2="181.2" y2="670.8" stroke="#111" stroke-width="1.2"/>
<text x="174.39999999999998" y="674.3" font-size="9.9" text-anchor="end" font-weight="normal" font-style="normal" fill="#111"  stroke="#111" stroke-width="0.22">0.0</text>
<line x1="181.2" y1="670.8" x2="181.2" y2="674.3" stroke="#111" stroke-width="1.2"/>
<text x="181.2" y="686.2" font-size="9.9" text-anchor="middle" font-weight="normal" font-style="normal" fill="#111"  stroke="#111" stroke-width="0.22">0</text>
<line x1="213.69" y1="670.8" x2="213.69" y2="674.3" stroke="#111" stroke-width="1.2"/>
<text x="213.69" y="686.2" font-size="9.9" text-anchor="middle" font-weight="normal" font-style="normal" fill="#111"  stroke="#111" stroke-width="0.22">3</text>
<line x1="246.18" y1="670.8" x2="246.18" y2="674.3" stroke="#111" stroke-width="1.2"/>
<text x="246.18" y="686.2" font-size="9.9" text-anchor="middle" font-weight="normal" font-style="normal" fill="#111"  stroke="#111" stroke-width="0.22">6</text>
<polyline points="181.20,584.40 213.69,624.14 246.18,637.97" fill="none" stroke="#c8102e" stroke-width="1.35"/>
<circle cx="181.20" cy="584.40" r="1.9" fill="#c8102e"/>
<circle cx="213.69" cy="624.14" r="1.9" fill="#c8102e"/>
<circle cx="246.18" cy="637.97" r="1.9" fill="#c8102e"/>
<polyline points="181.20,584.40 213.69,608.59 246.18,619.82" fill="none" stroke="#1a4f8c" stroke-width="1.35"/>
<circle cx="181.20" cy="584.40" r="1.9" fill="#1a4f8c"/>
<circle cx="213.69" cy="608.59" r="1.9" fill="#1a4f8c"/>
<circle cx="246.18" cy="619.82" r="1.9" fill="#1a4f8c"/>
<polyline points="181.20,584.40 213.69,606.00 246.18,614.21" fill="none" stroke="#3db54b" stroke-width="1.35"/>
<circle cx="181.20" cy="584.40" r="1.9" fill="#3db54b"/>
<circle cx="213.69" cy="606.00" r="1.9" fill="#3db54b"/>
<circle cx="246.18" cy="614.21" r="1.9" fill="#3db54b"/>
<text x="324.2" y="565" font-size="11.2" text-anchor="middle" font-weight="normal" font-style="normal" fill="#111"  stroke="#111" stroke-width="0.22">KOPN49</text>
<line x1="286.5" y1="571" x2="286.5" y2="671.2" stroke="#000" stroke-width="1.25"/>
<line x1="282.2" y1="670.6" x2="361.8" y2="670.6" stroke="#000" stroke-width="1.3"/>
<line x1="282.2" y1="584.4" x2="286.2" y2="584.4" stroke="#111" stroke-width="1.2"/>
<text x="279.4" y="587.9" font-size="9.9" text-anchor="end" font-weight="normal" font-style="normal" fill="#111"  stroke="#111" stroke-width="0.22">1.0</text>
<line x1="282.2" y1="627.5999999999999" x2="286.2" y2="627.5999999999999" stroke="#111" stroke-width="1.2"/>
<text x="279.4" y="631.0999999999999" font-size="9.9" text-anchor="end" font-weight="normal" font-style="normal" fill="#111"  stroke="#111" stroke-width="0.22">0.5</text>
<line x1="282.2" y1="670.8" x2="286.2" y2="670.8" stroke="#111" stroke-width="1.2"/>
<text x="279.4" y="674.3" font-size="9.9" text-anchor="end" font-weight="normal" font-style="normal" fill="#111"  stroke="#111" stroke-width="0.22">0.0</text>
<line x1="286.2" y1="670.8" x2="286.2" y2="674.3" stroke="#111" stroke-width="1.2"/>
<text x="286.2" y="686.2" font-size="9.9" text-anchor="middle" font-weight="normal" font-style="normal" fill="#111"  stroke="#111" stroke-width="0.22">0</text>
<line x1="318.6" y1="670.8" x2="318.6" y2="674.3" stroke="#111" stroke-width="1.2"/>
<text x="318.6" y="686.2" font-size="9.9" text-anchor="middle" font-weight="normal" font-style="normal" fill="#111"  stroke="#111" stroke-width="0.22">3</text>
<line x1="351.0" y1="670.8" x2="351.0" y2="674.3" stroke="#111" stroke-width="1.2"/>
<text x="351.0" y="686.2" font-size="9.9" text-anchor="middle" font-weight="normal" font-style="normal" fill="#111"  stroke="#111" stroke-width="0.22">6</text>
<polyline points="286.20,584.40 318.60,636.24 351.00,656.98" fill="none" stroke="#c8102e" stroke-width="1.35"/>
<circle cx="286.20" cy="584.40" r="1.9" fill="#c8102e"/>
<circle cx="318.60" cy="636.24" r="1.9" fill="#c8102e"/>
<circle cx="351.00" cy="656.98" r="1.9" fill="#c8102e"/>
<polyline points="286.20,584.40 318.60,629.33 351.00,650.50" fill="none" stroke="#1a4f8c" stroke-width="1.35"/>
<circle cx="286.20" cy="584.40" r="1.9" fill="#1a4f8c"/>
<circle cx="318.60" cy="629.33" r="1.9" fill="#1a4f8c"/>
<circle cx="351.00" cy="650.50" r="1.9" fill="#1a4f8c"/>
<polyline points="286.20,584.40 318.60,584.40 351.00,577.49" fill="none" stroke="#3db54b" stroke-width="1.35"/>
<circle cx="286.20" cy="584.40" r="1.9" fill="#3db54b"/>
<circle cx="318.60" cy="584.40" r="1.9" fill="#3db54b"/>
<circle cx="351.00" cy="577.49" r="1.9" fill="#3db54b"/>
<line x1="141.7" y1="628.032" x2="141.7" y2="632.352" stroke="#3db54b" stroke-width="1.2"/>
<line x1="140.1" y1="628.032" x2="143.29999999999998" y2="628.032" stroke="#3db54b" stroke-width="1"/>
<line x1="140.1" y1="632.352" x2="143.29999999999998" y2="632.352" stroke="#3db54b" stroke-width="1"/>
<line x1="246.2" y1="612.48" x2="246.2" y2="615.9359999999999" stroke="#3db54b" stroke-width="1.2"/>
<line x1="244.6" y1="612.48" x2="247.79999999999998" y2="612.48" stroke="#3db54b" stroke-width="1"/>
<line x1="244.6" y1="615.9359999999999" x2="247.79999999999998" y2="615.9359999999999" stroke="#3db54b" stroke-width="1"/>
<line x1="318.7" y1="581.808" x2="318.7" y2="586.992" stroke="#3db54b" stroke-width="1.2"/>
<line x1="317.09999999999997" y1="581.808" x2="320.3" y2="581.808" stroke="#3db54b" stroke-width="1"/>
<line x1="317.09999999999997" y1="586.992" x2="320.3" y2="586.992" stroke="#3db54b" stroke-width="1"/>
<line x1="351" y1="574.896" x2="351" y2="580.0799999999999" stroke="#3db54b" stroke-width="1.2"/>
<line x1="349.4" y1="574.896" x2="352.6" y2="574.896" stroke="#3db54b" stroke-width="1"/>
<line x1="349.4" y1="580.0799999999999" x2="352.6" y2="580.0799999999999" stroke="#3db54b" stroke-width="1"/>
<line x1="246.2" y1="618.096" x2="246.2" y2="621.5519999999999" stroke="#1a4f8c" stroke-width="1.2"/>
<line x1="213.6" y1="607.2959999999999" x2="213.6" y2="609.888" stroke="#1a4f8c" stroke-width="1.2"/>
<line x1="146.4" y1="645" x2="146.4" y2="657.7" stroke="#333" stroke-width="1"/>
<circle cx="149.6" cy="650.05" r="1.05" fill="#333"/>
<circle cx="149.6" cy="652.65" r="1.05" fill="#333"/>
<line x1="152.5" y1="630.4" x2="152.5" y2="657.7" stroke="#333" stroke-width="1"/>
<circle cx="155.8" cy="642.75" r="1.05" fill="#333"/>
<circle cx="155.8" cy="645.35" r="1.05" fill="#333"/>
<line x1="251.3" y1="619.8" x2="251.3" y2="636.7" stroke="#333" stroke-width="1"/>
<circle cx="253.6" cy="626.95" r="1.05" fill="#333"/>
<circle cx="253.6" cy="629.55" r="1.05" fill="#333"/>
<line x1="256.8" y1="614.5" x2="256.8" y2="636.7" stroke="#333" stroke-width="1"/>
<circle cx="259.3" cy="624.30" r="1.05" fill="#333"/>
<circle cx="259.3" cy="626.90" r="1.05" fill="#333"/>
<line x1="355.6" y1="650.4" x2="355.6" y2="656.6" stroke="#333" stroke-width="1"/>
<circle cx="358.4" cy="653.50" r="1.05" fill="#333"/>
<line x1="361.8" y1="577.7" x2="361.8" y2="656.3" stroke="#333" stroke-width="1"/>
<circle cx="365.3" cy="615.70" r="1.05" fill="#333"/>
<circle cx="365.3" cy="618.30" r="1.05" fill="#333"/>
<text x="248.6" y="701.9" font-size="10.8" text-anchor="middle" font-weight="normal" font-style="normal" fill="#111" stroke="#111" stroke-width="0.2" transform="translate(248.6 0) scale(0.79 1) translate(-248.6 0)">Days</text>
<text x="0" y="0" font-size="11.6" text-anchor="middle" fill="#111" stroke="#111" stroke-width="0.3" transform="translate(49.9 618.8) rotate(-90) scale(0.79 1)">Relative viability</text>
<line x1="383" y1="585.1" x2="397.4" y2="585.1" stroke="#3db54b" stroke-width="1.3"/>
<text x="400.9" y="588.0" font-size="8.95" text-anchor="start" font-weight="normal" font-style="normal" fill="#111"  stroke="#111" stroke-width="0.22">Ruxo (500nM)</text>
<line x1="383" y1="599.5" x2="397.4" y2="599.5" stroke="#1a4f8c" stroke-width="1.3"/>
<text x="400.9" y="602.4" font-size="8.95" text-anchor="start" font-weight="normal" font-style="normal" fill="#111"  stroke="#111" stroke-width="0.22">Gilt (500nM)</text>
<line x1="383" y1="613.9" x2="397.4" y2="613.9" stroke="#c8102e" stroke-width="1.3"/>
<text x="400.9" y="616.8" font-size="8.95" text-anchor="start" font-weight="normal" font-style="normal" fill="#111"  stroke="#111" stroke-width="0.22">Ruxo (500nM)+Gilt (500nM)</text>
<text x="8.5" y="715.9" font-size="12.9" text-anchor="start" font-weight="bold" font-style="normal" fill="#111" stroke="#111" stroke-width="0.4">D</text>
<text x="116" y="720.2" font-size="11.2" text-anchor="middle" font-weight="normal" font-style="normal" fill="#111"  stroke="#111" stroke-width="0.22">MUTZ5</text>
<line x1="74.5" y1="734.0" x2="74.5" y2="838.1" stroke="#000" stroke-width="1.25"/>
<line x1="70.2" y1="837.5" x2="158.7" y2="837.5" stroke="#000" stroke-width="1.3"/>
<line x1="70.2" y1="837.5" x2="74.2" y2="837.5" stroke="#111" stroke-width="1.2"/>
<text x="67.4" y="841.0" font-size="9.9" text-anchor="end" font-weight="normal" font-style="normal" fill="#111"  stroke="#111" stroke-width="0.22">0</text>
<line x1="70.2" y1="816.8" x2="74.2" y2="816.8" stroke="#111" stroke-width="1.2"/>
<text x="67.4" y="820.3" font-size="9.9" text-anchor="end" font-weight="normal" font-style="normal" fill="#111"  stroke="#111" stroke-width="0.22">20</text>
<line x1="70.2" y1="796.1" x2="74.2" y2="796.1" stroke="#111" stroke-width="1.2"/>
<text x="67.4" y="799.6" font-size="9.9" text-anchor="end" font-weight="normal" font-style="normal" fill="#111"  stroke="#111" stroke-width="0.22">40</text>
<line x1="70.2" y1="775.4" x2="74.2" y2="775.4" stroke="#111" stroke-width="1.2"/>
<text x="67.4" y="778.9" font-size="9.9" text-anchor="end" font-weight="normal" font-style="normal" fill="#111"  stroke="#111" stroke-width="0.22">60</text>
<line x1="70.2" y1="754.7" x2="74.2" y2="754.7" stroke="#111" stroke-width="1.2"/>
<text x="67.4" y="758.2" font-size="9.9" text-anchor="end" font-weight="normal" font-style="normal" fill="#111"  stroke="#111" stroke-width="0.22">80</text>
<line x1="70.2" y1="734.0" x2="74.2" y2="734.0" stroke="#111" stroke-width="1.2"/>
<text x="67.4" y="737.5" font-size="9.9" text-anchor="end" font-weight="normal" font-style="normal" fill="#111"  stroke="#111" stroke-width="0.22">100</text>
<rect x="79" y="826.12" width="6" height="11.38" fill="#ff8a00"/>
<line x1="82" y1="824.87" x2="82" y2="826.12" stroke="#222" stroke-width="0.8"/>
<line x1="80.2" y1="824.87" x2="83.8" y2="824.87" stroke="#222" stroke-width="0.8"/>
<text x="82" y="825.17" font-size="7.5" text-anchor="middle" fill="#222" stroke="#222" stroke-width="0.15">**</text>
<rect x="87.9" y="819.90" width="6" height="17.60" fill="#3db54b"/>
<line x1="90.9" y1="818.35" x2="90.9" y2="819.90" stroke="#222" stroke-width="0.8"/>
<line x1="89.10000000000001" y1="818.35" x2="92.7" y2="818.35" stroke="#222" stroke-width="0.8"/>
<text x="90.9" y="818.65" font-size="7.5" text-anchor="middle" fill="#222" stroke="#222" stroke-width="0.15">**</text>
<rect x="96.7" y="811.11" width="6" height="26.39" fill="#1a4f8c"/>
<line x1="99.7" y1="809.87" x2="99.7" y2="811.11" stroke="#222" stroke-width="0.8"/>
<line x1="97.9" y1="809.87" x2="101.5" y2="809.87" stroke="#222" stroke-width="0.8"/>
<text x="99.7" y="810.17" font-size="7.5" text-anchor="middle" fill="#222" stroke="#222" stroke-width="0.15">**</text>
<rect x="105.2" y="776.43" width="6" height="61.07" fill="#c8102e"/>
<line x1="108.2" y1="774.57" x2="108.2" y2="776.43" stroke="#222" stroke-width="0.8"/>
<line x1="106.4" y1="774.57" x2="110.0" y2="774.57" stroke="#222" stroke-width="0.8"/>
<polyline points="82,815.37 82,761.90 108.20,761.90 108.20,767.90" fill="none" stroke="#6a6a6a" stroke-width="1"/>
<polyline points="90.9,808.85 90.9,763.70 107.40,763.70 107.40,767.90" fill="none" stroke="#6a6a6a" stroke-width="1"/>
<polyline points="99.7,800.37 99.7,765.50 106.60,765.50 106.60,767.90" fill="none" stroke="#6a6a6a" stroke-width="1"/>
<rect x="122" y="821.98" width="6" height="15.52" fill="#ff8a00"/>
<line x1="125" y1="819.90" x2="125" y2="821.98" stroke="#222" stroke-width="0.8"/>
<line x1="123.2" y1="819.90" x2="126.8" y2="819.90" stroke="#222" stroke-width="0.8"/>
<text x="125" y="820.20" font-size="7.5" text-anchor="middle" fill="#222" stroke="#222" stroke-width="0.15">**</text>
<rect x="130.75" y="811.11" width="6" height="26.39" fill="#3db54b"/>
<line x1="133.75" y1="809.04" x2="133.75" y2="811.11" stroke="#222" stroke-width="0.8"/>
<line x1="131.95" y1="809.04" x2="135.55" y2="809.04" stroke="#222" stroke-width="0.8"/>
<text x="133.75" y="809.34" font-size="7.5" text-anchor="middle" fill="#222" stroke="#222" stroke-width="0.15">**</text>
<rect x="139.25" y="788.86" width="6" height="48.64" fill="#1a4f8c"/>
<line x1="142.25" y1="786.78" x2="142.25" y2="788.86" stroke="#222" stroke-width="0.8"/>
<line x1="140.45" y1="786.78" x2="144.05" y2="786.78" stroke="#222" stroke-width="0.8"/>
<text x="142.25" y="787.08" font-size="7.5" text-anchor="middle" fill="#222" stroke="#222" stroke-width="0.15">**</text>
<rect x="148.25" y="739.17" width="6" height="98.33" fill="#c8102e"/>
<line x1="151.25" y1="737.93" x2="151.25" y2="739.17" stroke="#222" stroke-width="0.8"/>
<line x1="149.45" y1="737.93" x2="153.05" y2="737.93" stroke="#222" stroke-width="0.8"/>
<polyline points="125,810.40 125,730.70 151.25,730.70 151.25,736.70" fill="none" stroke="#6a6a6a" stroke-width="1"/>
<polyline points="133.75,799.54 133.75,732.50 150.45,732.50 150.45,736.70" fill="none" stroke="#6a6a6a" stroke-width="1"/>
<polyline points="142.25,777.28 142.25,734.30 149.65,734.30 149.65,736.70" fill="none" stroke="#6a6a6a" stroke-width="1"/>
<text x="95.1" y="849.3" font-size="9.4" text-anchor="middle" font-weight="normal" font-style="normal" fill="#111"  stroke="#111" stroke-width="0.22">Day3</text>
<text x="138.125" y="849.3" font-size="9.4" text-anchor="middle" font-weight="normal" font-style="normal" fill="#111"  stroke="#111" stroke-width="0.22">Day6</text>
<text x="228.9" y="720.2" font-size="11.2" text-anchor="middle" font-weight="normal" font-style="normal" fill="#111"  stroke="#111" stroke-width="0.22">MHH-CALL4</text>
<line x1="186.5" y1="734.4" x2="186.5" y2="838.1" stroke="#000" stroke-width="1.25"/>
<line x1="182.4" y1="837.5" x2="270.5" y2="837.5" stroke="#000" stroke-width="1.3"/>
<line x1="182.4" y1="837.5" x2="186.4" y2="837.5" stroke="#111" stroke-width="1.2"/>
<text x="179.6" y="841.0" font-size="9.9" text-anchor="end" font-weight="normal" font-style="normal" fill="#111"  stroke="#111" stroke-width="0.22">0</text>
<line x1="182.4" y1="816.88" x2="186.4" y2="816.88" stroke="#111" stroke-width="1.2"/>
<text x="179.6" y="820.38" font-size="9.9" text-anchor="end" font-weight="normal" font-style="normal" fill="#111"  stroke="#111" stroke-width="0.22">20</text>
<line x1="182.4" y1="796.26" x2="186.4" y2="796.26" stroke="#111" stroke-width="1.2"/>
<text x="179.6" y="799.76" font-size="9.9" text-anchor="end" font-weight="normal" font-style="normal" fill="#111"  stroke="#111" stroke-width="0.22">40</text>
<line x1="182.4" y1="775.64" x2="186.4" y2="775.64" stroke="#111" stroke-width="1.2"/>
<text x="179.6" y="779.14" font-size="9.9" text-anchor="end" font-weight="normal" font-style="normal" fill="#111"  stroke="#111" stroke-width="0.22">60</text>
<line x1="182.4" y1="755.02" x2="186.4" y2="755.02" stroke="#111" stroke-width="1.2"/>
<text x="179.6" y="758.52" font-size="9.9" text-anchor="end" font-weight="normal" font-style="normal" fill="#111"  stroke="#111" stroke-width="0.22">80</text>
<line x1="182.4" y1="734.4" x2="186.4" y2="734.4" stroke="#111" stroke-width="1.2"/>
<text x="179.6" y="737.9" font-size="9.9" text-anchor="end" font-weight="normal" font-style="normal" fill="#111"  stroke="#111" stroke-width="0.22">100</text>
<rect x="191.6" y="824.10" width="6" height="13.40" fill="#ff8a00"/>
<line x1="194.6" y1="822.55" x2="194.6" y2="824.10" stroke="#222" stroke-width="0.8"/>
<line x1="192.79999999999998" y1="822.55" x2="196.4" y2="822.55" stroke="#222" stroke-width="0.8"/>
<text x="194.6" y="822.85" font-size="7.5" text-anchor="middle" fill="#222" stroke="#222" stroke-width="0.15">**</text>
<rect x="200.3" y="824.10" width="6" height="13.40" fill="#3db54b"/>
<line x1="203.3" y1="823.27" x2="203.3" y2="824.10" stroke="#222" stroke-width="0.8"/>
<line x1="201.5" y1="823.27" x2="205.10000000000002" y2="823.27" stroke="#222" stroke-width="0.8"/>
<text x="203.3" y="823.57" font-size="7.5" text-anchor="middle" fill="#222" stroke="#222" stroke-width="0.15">**</text>
<rect x="209.1" y="817.29" width="6" height="20.21" fill="#1a4f8c"/>
<line x1="212.1" y1="816.47" x2="212.1" y2="817.29" stroke="#222" stroke-width="0.8"/>
<line x1="210.29999999999998" y1="816.47" x2="213.9" y2="816.47" stroke="#222" stroke-width="0.8"/>
<text x="212.1" y="816.77" font-size="7.5" text-anchor="middle" fill="#222" stroke="#222" stroke-width="0.15">**</text>
<rect x="217.8" y="808.63" width="6" height="28.87" fill="#c8102e"/>
<line x1="220.8" y1="807.60" x2="220.8" y2="808.63" stroke="#222" stroke-width="0.8"/>
<line x1="219.0" y1="807.60" x2="222.60000000000002" y2="807.60" stroke="#222" stroke-width="0.8"/>
<polyline points="194.6,813.05 194.6,792.30 220.80,792.30 220.80,798.30" fill="none" stroke="#6a6a6a" stroke-width="1"/>
<polyline points="203.3,813.77 203.3,794.10 220.00,794.10 220.00,798.30" fill="none" stroke="#6a6a6a" stroke-width="1"/>
<polyline points="212.1,806.97 212.1,795.90 219.20,795.90 219.20,798.30" fill="none" stroke="#6a6a6a" stroke-width="1"/>
<rect x="234.5" y="822.45" width="6" height="15.05" fill="#ff8a00"/>
<line x1="237.5" y1="821.62" x2="237.5" y2="822.45" stroke="#222" stroke-width="0.8"/>
<line x1="235.7" y1="821.62" x2="239.3" y2="821.62" stroke="#222" stroke-width="0.8"/>
<text x="237.5" y="821.92" font-size="7.5" text-anchor="middle" fill="#222" stroke="#222" stroke-width="0.15">**</text>
<rect x="243.2" y="821.42" width="6" height="16.08" fill="#3db54b"/>
<line x1="246.2" y1="819.97" x2="246.2" y2="821.42" stroke="#222" stroke-width="0.8"/>
<line x1="244.39999999999998" y1="819.97" x2="248.0" y2="819.97" stroke="#222" stroke-width="0.8"/>
<text x="246.2" y="820.27" font-size="7.5" text-anchor="middle" fill="#222" stroke="#222" stroke-width="0.15">**</text>
<rect x="252.1" y="803.48" width="6" height="34.02" fill="#1a4f8c"/>
<line x1="255.1" y1="800.90" x2="255.1" y2="803.48" stroke="#222" stroke-width="0.8"/>
<line x1="253.29999999999998" y1="800.90" x2="256.9" y2="800.90" stroke="#222" stroke-width="0.8"/>
<text x="255.1" y="801.20" font-size="7.5" text-anchor="middle" fill="#222" stroke="#222" stroke-width="0.15">**</text>
<rect x="261" y="744.40" width="6" height="93.10" fill="#c8102e"/>
<line x1="264" y1="742.34" x2="264" y2="744.40" stroke="#222" stroke-width="0.8"/>
<line x1="262.2" y1="742.34" x2="265.8" y2="742.34" stroke="#222" stroke-width="0.8"/>
<polyline points="237.5,812.12 237.5,733.80 264.00,733.80 264.00,739.80" fill="none" stroke="#6a6a6a" stroke-width="1"/>
<polyline points="246.2,810.47 246.2,735.60 263.20,735.60 263.20,739.80" fill="none" stroke="#6a6a6a" stroke-width="1"/>
<polyline points="255.1,791.40 255.1,737.40 262.40,737.40 262.40,739.80" fill="none" stroke="#6a6a6a" stroke-width="1"/>
<text x="207.7" y="849.3" font-size="9.4" text-anchor="middle" font-weight="normal" font-style="normal" fill="#111"  stroke="#111" stroke-width="0.22">Day3</text>
<text x="250.75" y="849.3" font-size="9.4" text-anchor="middle" font-weight="normal" font-style="normal" fill="#111"  stroke="#111" stroke-width="0.22">Day6</text>
<text x="339" y="720.2" font-size="11.2" text-anchor="middle" font-weight="normal" font-style="normal" fill="#111"  stroke="#111" stroke-width="0.22">KOPN49</text>
<line x1="296.5" y1="734.3" x2="296.5" y2="838.1" stroke="#000" stroke-width="1.25"/>
<line x1="292.4" y1="837.5" x2="380.5" y2="837.5" stroke="#000" stroke-width="1.3"/>
<line x1="292.4" y1="837.5" x2="296.4" y2="837.5" stroke="#111" stroke-width="1.2"/>
<text x="289.59999999999997" y="841.0" font-size="9.9" text-anchor="end" font-weight="normal" font-style="normal" fill="#111"  stroke="#111" stroke-width="0.22">0</text>
<line x1="292.4" y1="811.7" x2="296.4" y2="811.7" stroke="#111" stroke-width="1.2"/>
<text x="289.59999999999997" y="815.2" font-size="9.9" text-anchor="end" font-weight="normal" font-style="normal" fill="#111"  stroke="#111" stroke-width="0.22">20</text>
<line x1="292.4" y1="785.9" x2="296.4" y2="785.9" stroke="#111" stroke-width="1.2"/>
<text x="289.59999999999997" y="789.4" font-size="9.9" text-anchor="end" font-weight="normal" font-style="normal" fill="#111"  stroke="#111" stroke-width="0.22">40</text>
<line x1="292.4" y1="760.1" x2="296.4" y2="760.1" stroke="#111" stroke-width="1.2"/>
<text x="289.59999999999997" y="763.6" font-size="9.9" text-anchor="end" font-weight="normal" font-style="normal" fill="#111"  stroke="#111" stroke-width="0.22">60</text>
<line x1="292.4" y1="734.3" x2="296.4" y2="734.3" stroke="#111" stroke-width="1.2"/>
<text x="289.59999999999997" y="737.8" font-size="9.9" text-anchor="end" font-weight="normal" font-style="normal" fill="#111"  stroke="#111" stroke-width="0.22">80</text>
<rect x="301.25" y="821.76" width="6" height="15.74" fill="#ff8a00"/>
<line x1="304.25" y1="820.21" x2="304.25" y2="821.76" stroke="#222" stroke-width="0.8"/>
<line x1="302.45" y1="820.21" x2="306.05" y2="820.21" stroke="#222" stroke-width="0.8"/>
<text x="304.25" y="820.51" font-size="7.5" text-anchor="middle" fill="#222" stroke="#222" stroke-width="0.15">**</text>
<rect x="310" y="828.21" width="6" height="9.29" fill="#3db54b"/>
<line x1="313" y1="827.18" x2="313" y2="828.21" stroke="#222" stroke-width="0.8"/>
<line x1="311.2" y1="827.18" x2="314.8" y2="827.18" stroke="#222" stroke-width="0.8"/>
<text x="313" y="827.48" font-size="7.5" text-anchor="middle" fill="#222" stroke="#222" stroke-width="0.15">**</text>
<rect x="318.75" y="810.80" width="6" height="26.70" fill="#1a4f8c"/>
<line x1="321.75" y1="808.99" x2="321.75" y2="810.80" stroke="#222" stroke-width="0.8"/>
<line x1="319.95" y1="808.99" x2="323.55" y2="808.99" stroke="#222" stroke-width="0.8"/>
<text x="321.75" y="809.29" font-size="7.5" text-anchor="middle" fill="#222" stroke="#222" stroke-width="0.15">**</text>
<rect x="327.5" y="801.25" width="6" height="36.25" fill="#c8102e"/>
<line x1="330.5" y1="800.22" x2="330.5" y2="801.25" stroke="#222" stroke-width="0.8"/>
<line x1="328.7" y1="800.22" x2="332.3" y2="800.22" stroke="#222" stroke-width="0.8"/>
<polyline points="304.25,810.71 304.25,788.00 330.50,788.00 330.50,794.00" fill="none" stroke="#6a6a6a" stroke-width="1"/>
<polyline points="313,817.68 313,789.80 329.70,789.80 329.70,794.00" fill="none" stroke="#6a6a6a" stroke-width="1"/>
<polyline points="321.75,799.49 321.75,791.60 328.90,791.60 328.90,794.00" fill="none" stroke="#6a6a6a" stroke-width="1"/>
<rect x="344.25" y="813.76" width="6" height="23.74" fill="#ff8a00"/>
<line x1="347.25" y1="811.18" x2="347.25" y2="813.76" stroke="#222" stroke-width="0.8"/>
<line x1="345.45" y1="811.18" x2="349.05" y2="811.18" stroke="#222" stroke-width="0.8"/>
<text x="347.25" y="811.48" font-size="7.5" text-anchor="middle" fill="#222" stroke="#222" stroke-width="0.15">**</text>
<rect x="353" y="822.54" width="6" height="14.96" fill="#3db54b"/>
<line x1="356" y1="819.44" x2="356" y2="822.54" stroke="#222" stroke-width="0.8"/>
<line x1="354.2" y1="819.44" x2="357.8" y2="819.44" stroke="#222" stroke-width="0.8"/>
<text x="356" y="819.74" font-size="7.5" text-anchor="middle" fill="#222" stroke="#222" stroke-width="0.15">**</text>
<rect x="361.75" y="785.00" width="6" height="52.50" fill="#1a4f8c"/>
<line x1="364.75" y1="782.93" x2="364.75" y2="785.00" stroke="#222" stroke-width="0.8"/>
<line x1="362.95" y1="782.93" x2="366.55" y2="782.93" stroke="#222" stroke-width="0.8"/>
<text x="364.75" y="783.23" font-size="7.5" text-anchor="middle" fill="#222" stroke="#222" stroke-width="0.15">**</text>
<rect x="370.5" y="747.97" width="6" height="89.53" fill="#c8102e"/>
<line x1="373.5" y1="744.62" x2="373.5" y2="747.97" stroke="#222" stroke-width="0.8"/>
<line x1="371.7" y1="744.62" x2="375.3" y2="744.62" stroke="#222" stroke-width="0.8"/>
<polyline points="347.25,801.68 347.25,735.00 373.50,735.00 373.50,741.00" fill="none" stroke="#6a6a6a" stroke-width="1"/>
<polyline points="356,809.94 356,736.80 372.70,736.80 372.70,741.00" fill="none" stroke="#6a6a6a" stroke-width="1"/>
<polyline points="364.75,773.43 364.75,738.60 371.90,738.60 371.90,741.00" fill="none" stroke="#6a6a6a" stroke-width="1"/>
<text x="317.375" y="849.3" font-size="9.4" text-anchor="middle" font-weight="normal" font-style="normal" fill="#111"  stroke="#111" stroke-width="0.22">Day3</text>
<text x="360.375" y="849.3" font-size="9.4" text-anchor="middle" font-weight="normal" font-style="normal" fill="#111"  stroke="#111" stroke-width="0.22">Day6</text>
<text x="0" y="0" font-size="11.3" text-anchor="middle" fill="#111" stroke="#111" stroke-width="0.35" transform="translate(44.6 785.4) rotate(-90) scale(0.79 1)">% AnnexinV positive cells</text>
<rect x="390.7" y="728.60" width="6.1" height="6.1" fill="#ff8a00"/>
<text x="401" y="734.7" font-size="8.95" text-anchor="start" font-weight="normal" font-style="normal" fill="#111"  stroke="#111" stroke-width="0.22">DMSO</text>
<rect x="390.7" y="742.67" width="6.1" height="6.1" fill="#3db54b"/>
<text x="401" y="748.7700000000001" font-size="8.95" text-anchor="start" font-weight="normal" font-style="normal" fill="#111"  stroke="#111" stroke-width="0.22">Ruxo (500nM)</text>
<rect x="390.7" y="756.74" width="6.1" height="6.1" fill="#1a4f8c"/>
<text x="401" y="762.84" font-size="8.95" text-anchor="start" font-weight="normal" font-style="normal" fill="#111"  stroke="#111" stroke-width="0.22">Gilt (500nM)</text>
<rect x="390.7" y="770.81" width="6.1" height="6.1" fill="#c8102e"/>
<text x="401" y="776.9100000000001" font-size="8.95" text-anchor="start" font-weight="normal" font-style="normal" fill="#111"  stroke="#111" stroke-width="0.22">Ruxo (500nM)+Gilt (500nM)</text>
</g>
<rect x="0" y="0" width="520" height="1.1" fill="#000"/>
<rect x="0" y="0" width="1.1" height="861" fill="#000"/>
<rect x="518.2" y="0" width="1.8" height="861" fill="#000"/>
<rect x="0" y="859.2" width="520" height="1.8" fill="#000"/>
</svg></body></html>
